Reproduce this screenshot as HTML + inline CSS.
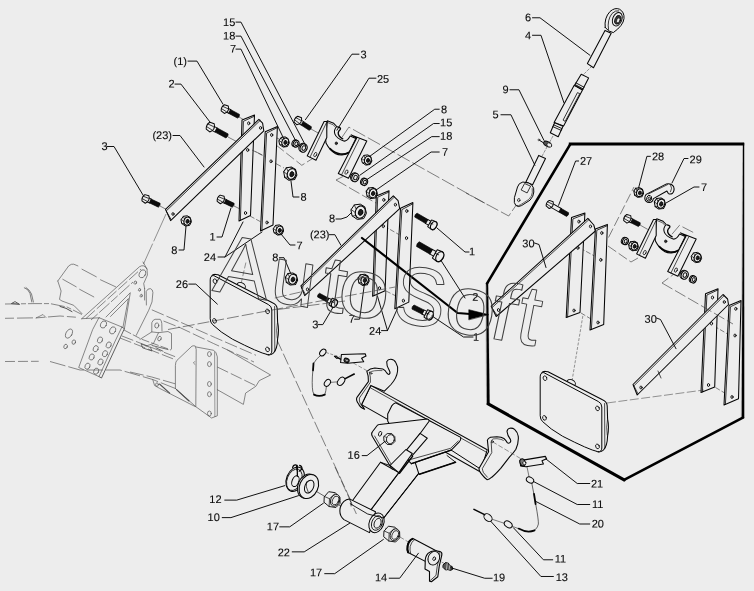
<!DOCTYPE html>
<html><head><meta charset="utf-8"><title>Parts diagram</title>
<style>
html,body{margin:0;padding:0;background:#ededed;}
body{width:754px;height:591px;overflow:hidden;font-family:"Liberation Sans",sans-serif;}
svg{display:block;filter:grayscale(1) blur(0.3px)}
svg text{font-family:"Liberation Sans",sans-serif;fill:#0a0a0a;stroke:#0a0a0a;stroke-width:0.1px;}
</style></head><body>
<svg width="754" height="591" viewBox="0 0 754 591" stroke-linejoin="round" stroke-linecap="round">
<rect width="754" height="591" fill="#ededed"/>
<path d="M5.0 304.0 L35.0 303.6 L50.0 303.6 L67.0 307.0 L82.0 314.5" fill="none" stroke="#4e4e4e" stroke-width="0.65" stroke-dasharray="14 2 5 2" stroke-linecap="butt"/>
<path d="M5.0 318.3 L37.5 317.8 L60.0 316.0 L77.0 317.3" fill="none" stroke="#4e4e4e" stroke-width="0.65" stroke-dasharray="9 3 16 3" stroke-linecap="butt"/>
<path d="M5.0 361.5 L38.7 361.3" fill="none" stroke="#4e4e4e" stroke-width="0.65" stroke-dasharray="10 3" stroke-linecap="butt"/>
<path d="M50.0 361.5 L80.0 370.0 L120.0 370.0 L152.7 379.5 L175.4 388.5" fill="none" stroke="#4e4e4e" stroke-width="0.65" stroke-dasharray="16 3" stroke-linecap="butt"/>
<path d="M24.3 287.7 Q28.5 289 30 293.5 L31.8 302 M26 287.5 Q30 290 31.5 294 L33.4 302" fill="none" stroke="#4e4e4e" stroke-width="0.7" />
<path d="M11.7 303.4 L15 301.6 L19.3 304.2 Z" fill="none" stroke="#4e4e4e" stroke-width="0.9" />
<path d="M36 318 L43 314.5 L46 317.5" fill="none" stroke="#4e4e4e" stroke-width="0.6" />
<path d="M60 306.4 Q66 307.6 72 311.6" fill="none" stroke="#4e4e4e" stroke-width="1.0" />
<path d="M57.8 281 L68.7 265.9 Q71.5 263.6 73.7 264.2 L77.9 265.9" fill="none" stroke="#4e4e4e" stroke-width="0.65" />
<path d="M82.0 269.2 L96.3 276.8" fill="none" stroke="#4e4e4e" stroke-width="0.65" />
<path d="M100.5 279.8 L115.6 286.8" fill="none" stroke="#4e4e4e" stroke-width="0.65" />
<path d="M57.8 281 L61.1 291 L59.5 299.4 L62 301 L73.7 305.3 L82 313.6" fill="none" stroke="#4e4e4e" stroke-width="0.65" />
<path d="M62.8 279.3 L76.2 286.8" fill="none" stroke="#4e4e4e" stroke-width="0.65" />
<path d="M79.6 289.3 L93.8 296.9" fill="none" stroke="#4e4e4e" stroke-width="0.65" />
<path d="M81.7 318.7 L139.5 266.7 Q142 265.2 143.7 265.9 Q146.6 267.4 147 269.2 L147.4 275.1 L143.7 283.5 L144.6 288.5" fill="none" stroke="#4e4e4e" stroke-width="0.65" />
<path d="M86.0 318.5 L141.0 269.0" fill="none" stroke="#4e4e4e" stroke-width="0.65" stroke-dasharray="12 2.5" stroke-linecap="butt"/>
<path d="M91.0 320.0 L133.0 282.0" fill="none" stroke="#4e4e4e" stroke-width="0.65" stroke-dasharray="9 2 14 2" stroke-linecap="butt"/>
<path d="M106 317 L130.3 292.7 L124.4 328.7" fill="none" stroke="#4e4e4e" stroke-width="0.65" />
<path d="M110.5 316.5 L128.4 298.6 L123 327" fill="none" stroke="#4e4e4e" stroke-width="0.65" />
<path d="M81.7 318.7 L99.3 317.8" fill="none" stroke="#4e4e4e" stroke-width="0.65" />
<ellipse cx="142.4" cy="273.8" rx="3.00" ry="4.20" transform="rotate(25.0 142.4 273.8)" fill="none" stroke="#4e4e4e" stroke-width="0.65"/>
<ellipse cx="135.3" cy="282.6" rx="1.20" ry="1.70" transform="rotate(20.0 135.3 282.6)" fill="none" stroke="#4e4e4e" stroke-width="0.65"/>
<ellipse cx="139.5" cy="289.8" rx="1.00" ry="1.50" transform="rotate(20.0 139.5 289.8)" fill="none" stroke="#4e4e4e" stroke-width="0.65"/>
<ellipse cx="141.2" cy="295.7" rx="1.00" ry="1.50" transform="rotate(20.0 141.2 295.7)" fill="none" stroke="#4e4e4e" stroke-width="0.65"/>
<path d="M146.4 305 L146.2 291.5 Q147.6 288.3 150.4 288.6 Q152.8 289.4 152.9 292.5 L152 301.9 L148.7 310.3 L136.2 335.4" fill="none" stroke="#4e4e4e" stroke-width="0.65" />
<path d="M144.6 288.5 L144.6 300" fill="none" stroke="#4e4e4e" stroke-width="0.65" />
<path d="M99.3 317.8 L121.9 327 L115.2 341 L99 376.6 L78.7 367.5 L92.5 330 Z" fill="none" stroke="#4e4e4e" stroke-width="0.65" />
<path d="M121.9 327 L124.4 328.7 L101.5 378 L99 376.6" fill="none" stroke="#4e4e4e" stroke-width="0.9" />
<ellipse cx="103.5" cy="324.5" rx="2.80" ry="3.70" transform="rotate(25.0 103.5 324.5)" fill="none" stroke="#4e4e4e" stroke-width="0.65"/>
<ellipse cx="112.7" cy="330.4" rx="2.80" ry="3.70" transform="rotate(25.0 112.7 330.4)" fill="none" stroke="#4e4e4e" stroke-width="0.65"/>
<ellipse cx="100.0" cy="340.0" rx="2.40" ry="3.20" transform="rotate(25.0 100.0 340.0)" fill="none" stroke="#4e4e4e" stroke-width="0.65"/>
<ellipse cx="108.7" cy="345.0" rx="2.40" ry="3.20" transform="rotate(25.0 108.7 345.0)" fill="none" stroke="#4e4e4e" stroke-width="0.65"/>
<ellipse cx="95.7" cy="348.7" rx="2.40" ry="3.20" transform="rotate(25.0 95.7 348.7)" fill="none" stroke="#4e4e4e" stroke-width="0.65"/>
<ellipse cx="105.0" cy="353.7" rx="2.40" ry="3.20" transform="rotate(25.0 105.0 353.7)" fill="none" stroke="#4e4e4e" stroke-width="0.65"/>
<ellipse cx="91.7" cy="357.0" rx="2.40" ry="3.20" transform="rotate(25.0 91.7 357.0)" fill="none" stroke="#4e4e4e" stroke-width="0.65"/>
<ellipse cx="100.5" cy="362.0" rx="2.40" ry="3.20" transform="rotate(25.0 100.5 362.0)" fill="none" stroke="#4e4e4e" stroke-width="0.65"/>
<ellipse cx="87.5" cy="366.2" rx="2.40" ry="3.20" transform="rotate(25.0 87.5 366.2)" fill="none" stroke="#4e4e4e" stroke-width="0.65"/>
<ellipse cx="96.2" cy="371.2" rx="2.40" ry="3.20" transform="rotate(25.0 96.2 371.2)" fill="none" stroke="#4e4e4e" stroke-width="0.65"/>
<ellipse cx="69.0" cy="333.6" rx="3.00" ry="5.00" transform="rotate(30.0 69.0 333.6)" fill="none" stroke="#4e4e4e" stroke-width="0.65"/>
<ellipse cx="65.6" cy="346.5" rx="1.70" ry="2.30" transform="rotate(20.0 65.6 346.5)" fill="none" stroke="#4e4e4e" stroke-width="0.65"/>
<ellipse cx="73.8" cy="342.1" rx="1.70" ry="2.30" transform="rotate(20.0 73.8 342.1)" fill="none" stroke="#4e4e4e" stroke-width="0.65"/>
<path d="M151.8 331.9 L151.8 322.7 Q153 319.6 155.1 319.3 L160.2 319.3 Q161.6 320.8 161.8 323.5 L162 331" fill="none" stroke="#4e4e4e" stroke-width="0.65" />
<ellipse cx="156.8" cy="325.5" rx="2.00" ry="2.60" transform="rotate(10.0 156.8 325.5)" fill="none" stroke="#4e4e4e" stroke-width="0.65"/>
<path d="M140 339.4 L151.8 331.9 L158.5 332.7 L153.4 343.6 L146 346" fill="none" stroke="#4e4e4e" stroke-width="0.65" />
<path d="M158.5 332.7 L168 331.5 L171.5 333.5 L171.5 349" fill="none" stroke="#4e4e4e" stroke-width="0.65" />
<ellipse cx="159.5" cy="338.6" rx="1.60" ry="2.40" transform="rotate(20.0 159.5 338.6)" fill="none" stroke="#4e4e4e" stroke-width="0.65"/>
<path d="M141.5 344 L150.5 347.5 L152 351 L143 348 Z" fill="none" stroke="#4e4e4e" stroke-width="0.8" />
<path d="M152 345.5 L168 349.5 M156 347.8 L163 351.2" fill="none" stroke="#4e4e4e" stroke-width="0.8" />
<path d="M124.0 330.0 L141.0 339.0 L171.0 350.0" fill="none" stroke="#4e4e4e" stroke-width="0.65" stroke-dasharray="8 2" stroke-linecap="butt"/>
<path d="M122.0 336.0 L176.0 357.0" fill="none" stroke="#4e4e4e" stroke-width="0.65" stroke-dasharray="12 3" stroke-linecap="butt"/>
<path d="M151.8 309.8 L185.3 324.3 L215.4 337.7 L256.0 355.3" fill="none" stroke="#4e4e4e" stroke-width="0.65" stroke-dasharray="13 3" stroke-linecap="butt"/>
<path d="M163.5 321.0 L180.2 327.7 L213.7 343.6 L254.0 362.0" fill="none" stroke="#4e4e4e" stroke-width="0.65" stroke-dasharray="13 3" stroke-linecap="butt"/>
<path d="M120.0 338.0 L176.0 360.0" fill="none" stroke="#4e4e4e" stroke-width="0.65" stroke-dasharray="12 3" stroke-linecap="butt"/>
<path d="M130.0 372.0 L151.8 377.0 L175.2 383.8" fill="none" stroke="#4e4e4e" stroke-width="0.65" stroke-dasharray="14 3" stroke-linecap="butt"/>
<path d="M175.4 388.5 L175.4 365.4 Q175.6 361.5 176.9 360.4 L192 346.1 Q194 345.4 195.3 346.1 L196.2 349.5 L195.8 406.7 L175.4 388.5" fill="none" stroke="#4e4e4e" stroke-width="0.65" />
<path d="M196.2 347 L213.7 350.3 Q216.5 352 217.3 356.8 L217.3 415.8 L211.6 418 L195.8 406.7" fill="none" stroke="#4e4e4e" stroke-width="0.65" />
<path d="M214.6 352 L214.9 416.6" fill="none" stroke="#4e4e4e" stroke-width="0.55" />
<path d="M194.6 361.6 L193.4 363 L195 364.4" fill="none" stroke="#4e4e4e" stroke-width="0.6" />
<ellipse cx="209.4" cy="354.1" rx="1.90" ry="2.50" transform="rotate(0.0 209.4 354.1)" fill="none" stroke="#4e4e4e" stroke-width="0.65"/>
<ellipse cx="209.4" cy="364.1" rx="1.90" ry="2.50" transform="rotate(0.0 209.4 364.1)" fill="none" stroke="#4e4e4e" stroke-width="0.65"/>
<ellipse cx="209.4" cy="384.0" rx="1.90" ry="2.50" transform="rotate(0.0 209.4 384.0)" fill="none" stroke="#4e4e4e" stroke-width="0.65"/>
<ellipse cx="209.4" cy="394.2" rx="1.90" ry="2.50" transform="rotate(0.0 209.4 394.2)" fill="none" stroke="#4e4e4e" stroke-width="0.65"/>
<ellipse cx="209.4" cy="413.5" rx="1.90" ry="2.50" transform="rotate(0.0 209.4 413.5)" fill="none" stroke="#4e4e4e" stroke-width="0.65"/>
<path d="M227.5 350 L270.6 375 L259.3 380.6 L255.8 386.3 L245.6 393.1 L243.4 404.4 L217.3 389.7" fill="none" stroke="#4e4e4e" stroke-width="0.65" />
<path d="M217.3 367.0 L257.0 386.3" fill="none" stroke="#4e4e4e" stroke-width="0.65" stroke-dasharray="12 3" stroke-linecap="butt"/>
<path d="M152.7 379.5 L154.6 385.5 L159.5 388.3 L195 406.5" fill="none" stroke="#4e4e4e" stroke-width="0.65" />
<path d="M159.5 384 L169.7 393.1" fill="none" stroke="#4e4e4e" stroke-width="1.1" />
<path d="M176.5 389.7 L189 401" fill="none" stroke="#4e4e4e" stroke-width="1.1" />
<ellipse cx="157.0" cy="384.6" rx="1.40" ry="1.80" transform="rotate(0.0 157.0 384.6)" fill="none" stroke="#4e4e4e" stroke-width="0.65"/>
<path d="M143.0 262.0 L147.0 269.0" fill="none" stroke="#4e4e4e" stroke-width="0.65" />
<path d="M239.0 117.0 L246.0 121.0" fill="none" stroke="#333" stroke-width="0.6" stroke-dasharray="9 2.5 1.5 2.5" stroke-linecap="butt"/>
<path d="M228.0 137.0 L262.0 155.0" fill="none" stroke="#333" stroke-width="0.6" stroke-dasharray="9 2.5 1.5 2.5" stroke-linecap="butt"/>
<path d="M160.0 206.0 L171.0 212.0" fill="none" stroke="#333" stroke-width="0.6" stroke-dasharray="9 2.5 1.5 2.5" stroke-linecap="butt"/>
<path d="M166.0 214.0 L143.5 264.0" fill="none" stroke="#333" stroke-width="0.5" stroke-dasharray="30 2.5" stroke-linecap="butt"/>
<path d="M234.0 206.0 L240.0 209.0" fill="none" stroke="#333" stroke-width="0.6" stroke-dasharray="9 2.5 1.5 2.5" stroke-linecap="butt"/>
<path d="M273.0 136.0 L283.0 141.0" fill="none" stroke="#333" stroke-width="0.6" stroke-dasharray="9 2.5 1.5 2.5" stroke-linecap="butt"/>
<path d="M273.0 162.0 L284.0 168.0" fill="none" stroke="#333" stroke-width="0.6" stroke-dasharray="9 2.5 1.5 2.5" stroke-linecap="butt"/>
<path d="M276.0 145.0 L301.8 165.3 L315.0 157.0" fill="none" stroke="#333" stroke-width="0.6" stroke-dasharray="10 3" stroke-linecap="butt"/>
<path d="M311.0 129.0 L336.0 143.0" fill="none" stroke="#333" stroke-width="0.6" stroke-dasharray="9 2.5 1.5 2.5" stroke-linecap="butt"/>
<path d="M242.0 120.0 L254.5 115.0 L250.5 215.5 L239.0 221.0 Z" fill="#ededed" stroke="#050505" stroke-width="1.05" />
<path d="M240.4 220.4 L243.4 121.3 L254.3 116.3" fill="none" stroke="#050505" stroke-width="0.8" />
<ellipse cx="248.7" cy="123.3" rx="1.10" ry="1.50" transform="rotate(0.0 248.7 123.3)" fill="#ededed" stroke="#050505" stroke-width="0.9"/>
<ellipse cx="247.7" cy="150.0" rx="1.10" ry="1.50" transform="rotate(0.0 247.7 150.0)" fill="#ededed" stroke="#050505" stroke-width="0.9"/>
<ellipse cx="245.5" cy="213.0" rx="1.10" ry="1.50" transform="rotate(0.0 245.5 213.0)" fill="#ededed" stroke="#050505" stroke-width="0.9"/>
<path d="M258.9 119.4 L165.5 209.4 L170.6 220.6 L263.8 130.8 L262.6 123.2 Z" fill="#ededed" stroke="#050505" stroke-width="1.05" />
<path d="M260.0 120.6 L166.6 210.6" fill="none" stroke="#050505" stroke-width="0.8" />
<path d="M166.2 211.0 L171.0 219.4" fill="none" stroke="#050505" stroke-width="0.8" />
<ellipse cx="260.6" cy="127.9" rx="1.10" ry="1.40" transform="rotate(0.0 260.6 127.9)" fill="#ededed" stroke="#050505" stroke-width="0.9"/>
<ellipse cx="173.0" cy="214.0" rx="1.10" ry="1.40" transform="rotate(0.0 173.0 214.0)" fill="#ededed" stroke="#050505" stroke-width="0.9"/>
<path d="M265.2 131.8 L277.4 126.4 L273.0 225.0 L260.5 231.0 Z" fill="#ededed" stroke="#050505" stroke-width="1.05" />
<path d="M261.9 230.4 L266.6 133.1 L277.2 127.7" fill="none" stroke="#050505" stroke-width="0.8" />
<ellipse cx="271.7" cy="135.0" rx="1.10" ry="1.50" transform="rotate(0.0 271.7 135.0)" fill="#ededed" stroke="#050505" stroke-width="0.9"/>
<ellipse cx="271.0" cy="161.3" rx="1.10" ry="1.50" transform="rotate(0.0 271.0 161.3)" fill="#ededed" stroke="#050505" stroke-width="0.9"/>
<ellipse cx="267.0" cy="222.5" rx="1.10" ry="1.50" transform="rotate(0.0 267.0 222.5)" fill="#ededed" stroke="#050505" stroke-width="0.9"/>
<path d="M250.0 216.0 L261.0 222.0" fill="none" stroke="#333" stroke-width="0.6" stroke-dasharray="5 2" stroke-linecap="butt"/>
<path d="M252.0 150.0 L266.0 157.0" fill="none" stroke="#333" stroke-width="0.6" stroke-dasharray="5 2" stroke-linecap="butt"/>
<g transform="translate(225.0 109.0) rotate(28.2)"><path d="M2.0 -2.1 L5.5 -2.1 L5.5 2.1 L2.0 2.1 Z" fill="#ededed" stroke="#050505" stroke-width="0.9"/><path d="M5.5 -2.1 L15.3 -2.1 Q16.9 0 15.3 2.1 L5.5 2.1 Z" fill="#0c0c0c" stroke="#000" stroke-width="0.6"/><path d="M-2.50 -3.44 L1.50 -4.20 Q5.28 0 1.50 4.20 L-2.50 3.44 Q-4.60 0 -2.50 -3.44 Z" fill="#ededed" stroke="#050505" stroke-width="1.0"/><path d="M-3.30 -1.26 L2.10 -1.60 M-3.30 1.34 L2.10 1.68" fill="none" stroke="#050505" stroke-width="0.7"/></g>
<g transform="translate(210.5 127.0) rotate(28.4)"><path d="M2.3 -2.3 L6.5 -2.3 L6.5 2.3 L2.3 2.3 Z" fill="#ededed" stroke="#050505" stroke-width="0.9"/><path d="M6.5 -2.3 L18.8 -2.3 Q20.4 0 18.8 2.3 L6.5 2.3 Z" fill="#0c0c0c" stroke="#000" stroke-width="0.6"/><path d="M-2.80 -3.85 L1.68 -4.70 Q5.91 0 1.68 4.70 L-2.80 3.85 Q-5.15 0 -2.80 -3.85 Z" fill="#ededed" stroke="#050505" stroke-width="1.0"/><path d="M-3.60 -1.41 L2.28 -1.79 M-3.60 1.50 L2.28 1.88" fill="none" stroke="#050505" stroke-width="0.7"/></g>
<g transform="translate(145.7 198.8) rotate(25.4)"><path d="M2.0 -2.1 L5.4 -2.1 L5.4 2.1 L2.0 2.1 Z" fill="#ededed" stroke="#050505" stroke-width="0.9"/><path d="M5.4 -2.1 L15.0 -2.1 Q16.6 0 15.0 2.1 L5.4 2.1 Z" fill="#0c0c0c" stroke="#000" stroke-width="0.6"/><path d="M-2.50 -3.44 L1.50 -4.20 Q5.28 0 1.50 4.20 L-2.50 3.44 Q-4.60 0 -2.50 -3.44 Z" fill="#ededed" stroke="#050505" stroke-width="1.0"/><path d="M-3.30 -1.26 L2.10 -1.60 M-3.30 1.34 L2.10 1.68" fill="none" stroke="#050505" stroke-width="0.7"/></g>
<g transform="translate(220.9 199.3) rotate(25.7)"><path d="M2.0 -2.1 L5.1 -2.1 L5.1 2.1 L2.0 2.1 Z" fill="#ededed" stroke="#050505" stroke-width="0.9"/><path d="M5.1 -2.1 L13.7 -2.1 Q15.3 0 13.7 2.1 L5.1 2.1 Z" fill="#0c0c0c" stroke="#000" stroke-width="0.6"/><path d="M-2.50 -3.44 L1.50 -4.20 Q5.28 0 1.50 4.20 L-2.50 3.44 Q-4.60 0 -2.50 -3.44 Z" fill="#ededed" stroke="#050505" stroke-width="1.0"/><path d="M-3.30 -1.26 L2.10 -1.60 M-3.30 1.34 L2.10 1.68" fill="none" stroke="#050505" stroke-width="0.7"/></g>
<g transform="translate(298.0 120.5) rotate(33.2)"><path d="M2.0 -2.1 L5.4 -2.1 L5.4 2.1 L2.0 2.1 Z" fill="#ededed" stroke="#050505" stroke-width="0.9"/><path d="M5.4 -2.1 L14.7 -2.1 Q16.3 0 14.7 2.1 L5.4 2.1 Z" fill="#0c0c0c" stroke="#000" stroke-width="0.6"/><path d="M-2.50 -3.44 L1.50 -4.20 Q5.28 0 1.50 4.20 L-2.50 3.44 Q-4.60 0 -2.50 -3.44 Z" fill="#ededed" stroke="#050505" stroke-width="1.0"/><path d="M-3.30 -1.26 L2.10 -1.60 M-3.30 1.34 L2.10 1.68" fill="none" stroke="#050505" stroke-width="0.7"/></g>
<g transform="translate(284.2 142.0) rotate(0.0) scale(5.000)"><path d="M-1.02 -0.3 L-0.6 -0.92 L0.2 -1.02 L0.8 -0.66 L1.02 0.2 L0.66 0.9 L-0.2 1.02 L-0.86 0.56 Z" fill="#ededed" stroke="#050505" stroke-width="0.200"/><ellipse cx="0.2" cy="0.04" rx="0.66" ry="0.84" transform="rotate(18 0.2 0.04)" fill="#ededed" stroke="#050505" stroke-width="0.220"/><path d="M-0.6 -0.92 L-0.38 -0.42 M-1.02 -0.3 L-0.46 0.1 M-0.86 0.56 L-0.36 0.5" fill="none" stroke="#050505" stroke-width="0.140"/><ellipse cx="0.24" cy="0.08" rx="0.30" ry="0.41" transform="rotate(18 0.24 0.08)" fill="#1e1e1e" stroke="#050505" stroke-width="0.160"/></g>
<g transform="translate(296.1 143.7) rotate(22.0)"><ellipse cx="-1.30" cy="0" rx="2.87" ry="3.50" fill="#ededed" stroke="#050505" stroke-width="1.0"/><ellipse cx="0" cy="0" rx="2.87" ry="3.50" fill="#ededed" stroke="#050505" stroke-width="1.2"/><ellipse cx="0.2" cy="0" rx="1.40" ry="1.93" fill="#ededed" stroke="#050505" stroke-width="0.9"/></g>
<g transform="translate(303.6 148.0) rotate(22.0)"><ellipse cx="-1.30" cy="0" rx="3.48" ry="4.25" fill="#ededed" stroke="#050505" stroke-width="1.0"/><ellipse cx="0" cy="0" rx="3.48" ry="4.25" fill="#ededed" stroke="#050505" stroke-width="1.2"/><ellipse cx="0.2" cy="0" rx="1.70" ry="2.34" fill="#ededed" stroke="#050505" stroke-width="0.9"/></g>
<g transform="translate(290.3 173.7) rotate(0.0) scale(6.500)"><path d="M-1.02 -0.3 L-0.6 -0.92 L0.2 -1.02 L0.8 -0.66 L1.02 0.2 L0.66 0.9 L-0.2 1.02 L-0.86 0.56 Z" fill="#ededed" stroke="#050505" stroke-width="0.154"/><ellipse cx="0.2" cy="0.04" rx="0.66" ry="0.84" transform="rotate(18 0.2 0.04)" fill="#ededed" stroke="#050505" stroke-width="0.169"/><path d="M-0.6 -0.92 L-0.38 -0.42 M-1.02 -0.3 L-0.46 0.1 M-0.86 0.56 L-0.36 0.5" fill="none" stroke="#050505" stroke-width="0.108"/><ellipse cx="0.24" cy="0.08" rx="0.30" ry="0.41" transform="rotate(18 0.24 0.08)" fill="#1e1e1e" stroke="#050505" stroke-width="0.123"/></g>
<g transform="translate(278.5 230.0) rotate(0.0) scale(5.000)"><path d="M-1.02 -0.3 L-0.6 -0.92 L0.2 -1.02 L0.8 -0.66 L1.02 0.2 L0.66 0.9 L-0.2 1.02 L-0.86 0.56 Z" fill="#ededed" stroke="#050505" stroke-width="0.200"/><ellipse cx="0.2" cy="0.04" rx="0.66" ry="0.84" transform="rotate(18 0.2 0.04)" fill="#ededed" stroke="#050505" stroke-width="0.220"/><path d="M-0.6 -0.92 L-0.38 -0.42 M-1.02 -0.3 L-0.46 0.1 M-0.86 0.56 L-0.36 0.5" fill="none" stroke="#050505" stroke-width="0.140"/><ellipse cx="0.24" cy="0.08" rx="0.30" ry="0.41" transform="rotate(18 0.24 0.08)" fill="#1e1e1e" stroke="#050505" stroke-width="0.160"/></g>
<g transform="translate(186.3 220.9) rotate(0.0) scale(5.000)"><path d="M-1.02 -0.3 L-0.6 -0.92 L0.2 -1.02 L0.8 -0.66 L1.02 0.2 L0.66 0.9 L-0.2 1.02 L-0.86 0.56 Z" fill="#ededed" stroke="#050505" stroke-width="0.200"/><ellipse cx="0.2" cy="0.04" rx="0.66" ry="0.84" transform="rotate(18 0.2 0.04)" fill="#ededed" stroke="#050505" stroke-width="0.220"/><path d="M-0.6 -0.92 L-0.38 -0.42 M-1.02 -0.3 L-0.46 0.1 M-0.86 0.56 L-0.36 0.5" fill="none" stroke="#050505" stroke-width="0.140"/><ellipse cx="0.24" cy="0.08" rx="0.30" ry="0.41" transform="rotate(18 0.24 0.08)" fill="#1e1e1e" stroke="#050505" stroke-width="0.160"/></g>
<path d="M 327.3 120.8 L 333.7 123.3 L 336.8 126.5 C 334.8 128.5 333.9 131.5 334.9 134.1 C 336.0 137.0 339.5 139.5 343.8 141.1 C 346.0 141.4 348.5 139.0 350.2 136.0 L 355.9 138.6 L 349.0 152.6 C 345.0 155.6 339.0 155.4 335.6 153.8 C 331.5 151.5 328.6 148.1 326.0 143.0 L 325.5 138.0 Z" fill="#ededed" stroke="#050505" stroke-width="1.05" />
<path d="M 337.6 126.9 C 340.4 127.4 341.0 128.4 340.2 129.6 C 338.2 131.4 337.6 133.8 339.2 136.0 C 340.2 137.4 341.4 138.3 342.8 138.8" fill="none" stroke="#050505" stroke-width="1.3" />
<path d="M 327.3 122.4 L 333.2 124.8 L 335.6 127.4" fill="none" stroke="#050505" stroke-width="0.6" />
<path d="M 330.0 148.6 C 333.0 151.6 336.5 153.4 340.6 154.0 C 343.5 154.3 346.5 153.6 348.6 152.4" fill="none" stroke="#050505" stroke-width="1.7" />
<ellipse cx="336.3" cy="143.3" rx="1.20" ry="1.40" transform="rotate(0.0 336.3 143.3)" fill="#333" stroke="#050505" stroke-width="0.6"/>
<path d="M324.1 121.4 L326.8 121.4 L326.8 137.6 L316.0 160.3 L307.2 155.9 Z" fill="#ededed" stroke="#050505" stroke-width="1.05" />
<path d="M326.3 123.0 L310.0 157.2" fill="none" stroke="#050505" stroke-width="0.7" />
<ellipse cx="315.3" cy="154.6" rx="1.30" ry="2.30" transform="rotate(25.0 315.3 154.6)" fill="#ededed" stroke="#050505" stroke-width="0.7"/>
<path d="M351.2 134.9 L366.8 141.0 L348.5 178.2 L338.3 173.5 L356.6 138.3 Z" fill="#ededed" stroke="#050505" stroke-width="1.05" />
<path d="M359.3 139.0 L341.5 175.0" fill="none" stroke="#050505" stroke-width="0.7" />
<ellipse cx="346.5" cy="172.1" rx="1.30" ry="2.30" transform="rotate(25.0 346.5 172.1)" fill="#ededed" stroke="#050505" stroke-width="0.7"/>
<g transform="translate(366.8 160.0) rotate(0.0) scale(5.000)"><path d="M-1.02 -0.3 L-0.6 -0.92 L0.2 -1.02 L0.8 -0.66 L1.02 0.2 L0.66 0.9 L-0.2 1.02 L-0.86 0.56 Z" fill="#ededed" stroke="#050505" stroke-width="0.200"/><ellipse cx="0.2" cy="0.04" rx="0.66" ry="0.84" transform="rotate(18 0.2 0.04)" fill="#ededed" stroke="#050505" stroke-width="0.220"/><path d="M-0.6 -0.92 L-0.38 -0.42 M-1.02 -0.3 L-0.46 0.1 M-0.86 0.56 L-0.36 0.5" fill="none" stroke="#050505" stroke-width="0.140"/><ellipse cx="0.24" cy="0.08" rx="0.30" ry="0.41" transform="rotate(18 0.24 0.08)" fill="#1e1e1e" stroke="#050505" stroke-width="0.160"/></g>
<g transform="translate(355.3 177.5) rotate(22.0)"><ellipse cx="-1.30" cy="0" rx="3.48" ry="4.25" fill="#ededed" stroke="#050505" stroke-width="1.0"/><ellipse cx="0" cy="0" rx="3.48" ry="4.25" fill="#ededed" stroke="#050505" stroke-width="1.2"/><ellipse cx="0.2" cy="0" rx="1.70" ry="2.34" fill="#ededed" stroke="#050505" stroke-width="0.9"/></g>
<g transform="translate(364.7 182.0) rotate(22.0)"><ellipse cx="-1.30" cy="0" rx="2.87" ry="3.50" fill="#ededed" stroke="#050505" stroke-width="1.0"/><ellipse cx="0" cy="0" rx="2.87" ry="3.50" fill="#ededed" stroke="#050505" stroke-width="1.2"/><ellipse cx="0.2" cy="0" rx="1.40" ry="1.93" fill="#ededed" stroke="#050505" stroke-width="0.9"/></g>
<path d="M342.0 137.3 L348.9 127.1 L488.0 205.0" fill="none" stroke="#333" stroke-width="0.6" stroke-dasharray="14 3" stroke-linecap="butt"/>
<path d="M336.0 180.0 L344.0 176.0" fill="none" stroke="#333" stroke-width="0.6" stroke-dasharray="8 3" stroke-linecap="butt"/>
<path d="M336.0 180.0 L395.0 214.0" fill="none" stroke="#333" stroke-width="0.6" stroke-dasharray="12 3" stroke-linecap="butt"/>
<path d="M384.0 226.0 L405.0 238.0" fill="none" stroke="#333" stroke-width="0.6" stroke-dasharray="5 2" stroke-linecap="butt"/>
<path d="M386.0 291.0 L396.0 296.0" fill="none" stroke="#333" stroke-width="0.6" stroke-dasharray="5 2" stroke-linecap="butt"/>
<path d="M376.3 195.9 L389.0 190.8 L385.1 290.8 L372.6 296.2 Z" fill="#ededed" stroke="#050505" stroke-width="1.05" />
<path d="M374.0 295.6 L377.7 197.2 L388.8 192.1" fill="none" stroke="#050505" stroke-width="0.8" />
<ellipse cx="383.8" cy="199.9" rx="1.10" ry="1.50" transform="rotate(0.0 383.8 199.9)" fill="#ededed" stroke="#050505" stroke-width="0.9"/>
<ellipse cx="383.3" cy="226.2" rx="1.10" ry="1.50" transform="rotate(0.0 383.3 226.2)" fill="#ededed" stroke="#050505" stroke-width="0.9"/>
<ellipse cx="379.5" cy="288.2" rx="1.10" ry="1.50" transform="rotate(0.0 379.5 288.2)" fill="#ededed" stroke="#050505" stroke-width="0.9"/>
<path d="M393.3 195.9 L300.9 285.8 L304.7 295.6 L399.7 208.6 L398.1 200.7 Z" fill="#ededed" stroke="#050505" stroke-width="1.05" />
<path d="M394.4 197.0 L302.0 286.9" fill="none" stroke="#050505" stroke-width="0.7" />
<path d="M301.5 287.5 L305.5 294.5" fill="none" stroke="#050505" stroke-width="0.7" />
<ellipse cx="395.4" cy="204.7" rx="1.10" ry="1.40" transform="rotate(0.0 395.4 204.7)" fill="#ededed" stroke="#050505" stroke-width="0.9"/>
<ellipse cx="307.5" cy="289.4" rx="1.10" ry="1.50" transform="rotate(0.0 307.5 289.4)" fill="#ededed" stroke="#050505" stroke-width="0.9"/>
<path d="M400.5 208.3 L412.9 202.6 L408.8 302.1 L394.8 308.7 Z" fill="#ededed" stroke="#050505" stroke-width="1.05" />
<path d="M396.2 308.1 L401.9 209.6 L412.7 203.9" fill="none" stroke="#050505" stroke-width="0.8" />
<ellipse cx="406.8" cy="211.0" rx="1.10" ry="1.50" transform="rotate(0.0 406.8 211.0)" fill="#ededed" stroke="#050505" stroke-width="0.9"/>
<ellipse cx="406.5" cy="238.1" rx="1.10" ry="1.50" transform="rotate(0.0 406.5 238.1)" fill="#ededed" stroke="#050505" stroke-width="0.9"/>
<ellipse cx="403.4" cy="300.7" rx="1.10" ry="1.50" transform="rotate(0.0 403.4 300.7)" fill="#ededed" stroke="#050505" stroke-width="0.9"/>
<g transform="translate(432.0 224.6) rotate(-149.5)"><path d="M2.2 -2.3 L6.4 -2.3 L6.4 2.3 L2.2 2.3 Z" fill="#ededed" stroke="#050505" stroke-width="0.9"/><path d="M6.4 -2.3 L18.7 -2.3 Q20.3 0 18.7 2.3 L6.4 2.3 Z" fill="#0c0c0c" stroke="#000" stroke-width="0.6"/><path d="M2.70 -3.87 L-1.89 -4.50 A2.97 4.50 0 0 0 -1.89 4.50 L2.70 3.87 Z" fill="#ededed" stroke="#050505" stroke-width="1.0"/><ellipse cx="-1.89" cy="0" rx="2.79" ry="4.32" fill="#ededed" stroke="#050505" stroke-width="1.1"/><path d="M2.70 0.45 L-0.41 0.90" fill="none" stroke="#050505" stroke-width="0.7"/></g>
<g transform="translate(437.7 255.5) rotate(-150.1)"><path d="M2.8 -2.7 L7.8 -2.7 L7.8 2.7 L2.8 2.7 Z" fill="#ededed" stroke="#050505" stroke-width="0.9"/><path d="M7.8 -2.7 L22.9 -2.7 Q24.5 0 22.9 2.7 L7.8 2.7 Z" fill="#0c0c0c" stroke="#000" stroke-width="0.6"/><path d="M3.30 -4.82 L-2.31 -5.60 A3.70 5.60 0 0 0 -2.31 5.60 L3.30 4.82 Z" fill="#ededed" stroke="#050505" stroke-width="1.0"/><ellipse cx="-2.31" cy="0" rx="3.47" ry="5.38" fill="#ededed" stroke="#050505" stroke-width="1.1"/><path d="M3.30 0.56 L-0.49 1.12" fill="none" stroke="#050505" stroke-width="0.7"/></g>
<g transform="translate(428.3 314.7) rotate(-153.4)"><path d="M2.3 -2.3 L6.1 -2.3 L6.1 2.3 L2.3 2.3 Z" fill="#ededed" stroke="#050505" stroke-width="0.9"/><path d="M6.1 -2.3 L17.1 -2.3 Q18.7 0 17.1 2.3 L6.1 2.3 Z" fill="#0c0c0c" stroke="#000" stroke-width="0.6"/><path d="M2.80 -4.04 L-1.96 -4.70 A3.10 4.70 0 0 0 -1.96 4.70 L2.80 4.04 Z" fill="#ededed" stroke="#050505" stroke-width="1.0"/><ellipse cx="-1.96" cy="0" rx="2.91" ry="4.51" fill="#ededed" stroke="#050505" stroke-width="1.1"/><path d="M2.80 0.47 L-0.42 0.94" fill="none" stroke="#050505" stroke-width="0.7"/></g>
<g transform="translate(332.8 302.7) rotate(-152.1)"><path d="M2.0 -2.1 L5.7 -2.1 L5.7 2.1 L2.0 2.1 Z" fill="#ededed" stroke="#050505" stroke-width="0.9"/><path d="M5.7 -2.1 L16.1 -2.1 Q17.7 0 16.1 2.1 L5.7 2.1 Z" fill="#0c0c0c" stroke="#000" stroke-width="0.6"/><path d="M2.50 -3.61 L-1.75 -4.20 A2.77 4.20 0 0 0 -1.75 4.20 L2.50 3.61 Z" fill="#ededed" stroke="#050505" stroke-width="1.0"/><ellipse cx="-1.75" cy="0" rx="2.60" ry="4.03" fill="#ededed" stroke="#050505" stroke-width="1.1"/><path d="M2.50 0.42 L-0.38 0.84" fill="none" stroke="#050505" stroke-width="0.7"/></g>
<g transform="translate(371.8 193.0) rotate(0.0) scale(5.500)"><path d="M-1.02 -0.3 L-0.6 -0.92 L0.2 -1.02 L0.8 -0.66 L1.02 0.2 L0.66 0.9 L-0.2 1.02 L-0.86 0.56 Z" fill="#ededed" stroke="#050505" stroke-width="0.182"/><ellipse cx="0.2" cy="0.04" rx="0.66" ry="0.84" transform="rotate(18 0.2 0.04)" fill="#ededed" stroke="#050505" stroke-width="0.200"/><path d="M-0.6 -0.92 L-0.38 -0.42 M-1.02 -0.3 L-0.46 0.1 M-0.86 0.56 L-0.36 0.5" fill="none" stroke="#050505" stroke-width="0.127"/><ellipse cx="0.24" cy="0.08" rx="0.30" ry="0.41" transform="rotate(18 0.24 0.08)" fill="#1e1e1e" stroke="#050505" stroke-width="0.145"/></g>
<g transform="translate(358.8 211.8) rotate(0.0) scale(7.500)"><path d="M-1.02 -0.3 L-0.6 -0.92 L0.2 -1.02 L0.8 -0.66 L1.02 0.2 L0.66 0.9 L-0.2 1.02 L-0.86 0.56 Z" fill="#ededed" stroke="#050505" stroke-width="0.133"/><ellipse cx="0.2" cy="0.04" rx="0.66" ry="0.84" transform="rotate(18 0.2 0.04)" fill="#ededed" stroke="#050505" stroke-width="0.147"/><path d="M-0.6 -0.92 L-0.38 -0.42 M-1.02 -0.3 L-0.46 0.1 M-0.86 0.56 L-0.36 0.5" fill="none" stroke="#050505" stroke-width="0.093"/><ellipse cx="0.24" cy="0.08" rx="0.30" ry="0.41" transform="rotate(18 0.24 0.08)" fill="#1e1e1e" stroke="#050505" stroke-width="0.107"/></g>
<g transform="translate(363.6 279.8) rotate(0.0) scale(5.500)"><path d="M-1.02 -0.3 L-0.6 -0.92 L0.2 -1.02 L0.8 -0.66 L1.02 0.2 L0.66 0.9 L-0.2 1.02 L-0.86 0.56 Z" fill="#ededed" stroke="#050505" stroke-width="0.182"/><ellipse cx="0.2" cy="0.04" rx="0.66" ry="0.84" transform="rotate(18 0.2 0.04)" fill="#ededed" stroke="#050505" stroke-width="0.200"/><path d="M-0.6 -0.92 L-0.38 -0.42 M-1.02 -0.3 L-0.46 0.1 M-0.86 0.56 L-0.36 0.5" fill="none" stroke="#050505" stroke-width="0.127"/><ellipse cx="0.24" cy="0.08" rx="0.30" ry="0.41" transform="rotate(18 0.24 0.08)" fill="#1e1e1e" stroke="#050505" stroke-width="0.145"/></g>
<path d="M336.0 219.0 L341.0 219.0 L347.0 217.0 L351.0 213.0" fill="none" stroke="#050505" stroke-width="0.95" />
<path d="M317.8 324.6 L322.8 324.6 L332.8 307.7" fill="none" stroke="#050505" stroke-width="0.95" />
<path d="M354.6 319.2 L359.6 319.2 L364.6 282.8" fill="none" stroke="#050505" stroke-width="0.95" />
<path d="M381.5 330.6 L387.5 330.6 L377.5 296.2" fill="none" stroke="#050505" stroke-width="0.95" />
<path d="M387.5 330.6 L397.4 308.7" fill="none" stroke="#050505" stroke-width="0.95" />
<path d="M437.0 228.0 L465.0 252.0 L469.0 252.0" fill="none" stroke="#050505" stroke-width="0.95" />
<path d="M441.0 260.5 L465.0 298.0" fill="none" stroke="#050505" stroke-width="0.95" />
<path d="M432.0 316.0 L463.5 337.0 L473.0 337.0" fill="none" stroke="#050505" stroke-width="0.95" />
<path d="M299.0 197.0 L293.0 197.0 L291.0 181.0" fill="none" stroke="#050505" stroke-width="0.95" />
<path d="M217.0 237.0 L222.0 237.0 L231.0 208.0" fill="none" stroke="#050505" stroke-width="0.95" />
<path d="M295.0 245.0 L290.0 245.0 L281.0 234.0" fill="none" stroke="#050505" stroke-width="0.95" />
<path d="M179.0 250.0 L184.0 250.0 L186.0 226.0" fill="none" stroke="#050505" stroke-width="0.95" />
<path d="M218.0 257.0 L225.0 257.0 L243.0 222.0" fill="none" stroke="#050505" stroke-width="0.95" />
<path d="M225.0 257.0 L262.0 232.0" fill="none" stroke="#050505" stroke-width="0.95" />
<g transform="translate(291.5 279.0) rotate(0.0) scale(6.000)"><path d="M-1.02 -0.3 L-0.6 -0.92 L0.2 -1.02 L0.8 -0.66 L1.02 0.2 L0.66 0.9 L-0.2 1.02 L-0.86 0.56 Z" fill="#ededed" stroke="#050505" stroke-width="0.167"/><ellipse cx="0.2" cy="0.04" rx="0.66" ry="0.84" transform="rotate(18 0.2 0.04)" fill="#ededed" stroke="#050505" stroke-width="0.183"/><path d="M-0.6 -0.92 L-0.38 -0.42 M-1.02 -0.3 L-0.46 0.1 M-0.86 0.56 L-0.36 0.5" fill="none" stroke="#050505" stroke-width="0.117"/><ellipse cx="0.24" cy="0.08" rx="0.30" ry="0.41" transform="rotate(18 0.24 0.08)" fill="#1e1e1e" stroke="#050505" stroke-width="0.133"/></g>
<path d="M279.4 257.7 L284.0 257.7 L290.6 273.2" fill="none" stroke="#050505" stroke-width="0.95" />
<path d="M173.0 135.5 L180.0 135.5 L204.0 167.0" fill="none" stroke="#050505" stroke-width="0.95" />
<path d="M107.0 146.5 L114.0 146.5 L143.0 195.0" fill="none" stroke="#050505" stroke-width="0.95" />
<path d="M580.0 248.0 L598.0 258.0" fill="none" stroke="#333" stroke-width="0.6" stroke-dasharray="5 2" stroke-linecap="butt"/>
<path d="M581.0 313.0 L591.0 319.0" fill="none" stroke="#333" stroke-width="0.6" stroke-dasharray="5 2" stroke-linecap="butt"/>
<path d="M571.5 217.6 L584.9 213.0 L580.0 312.5 L566.2 317.5 Z" fill="#ededed" stroke="#050505" stroke-width="1.05" />
<path d="M567.6 316.9 L572.9 218.9 L584.7 214.3" fill="none" stroke="#050505" stroke-width="0.8" />
<ellipse cx="578.9" cy="221.6" rx="1.10" ry="1.50" transform="rotate(0.0 578.9 221.6)" fill="#ededed" stroke="#050505" stroke-width="0.9"/>
<ellipse cx="577.9" cy="247.9" rx="1.10" ry="1.50" transform="rotate(0.0 577.9 247.9)" fill="#ededed" stroke="#050505" stroke-width="0.9"/>
<ellipse cx="574.0" cy="310.5" rx="1.10" ry="1.50" transform="rotate(0.0 574.0 310.5)" fill="#ededed" stroke="#050505" stroke-width="0.9"/>
<path d="M587.9 218.4 L491.2 306.2 L496.2 316.5 L595.4 231.0 L593.8 225.0 Z" fill="#ededed" stroke="#050505" stroke-width="1.05" />
<path d="M589.0 219.6 L492.4 307.3" fill="none" stroke="#050505" stroke-width="0.7" />
<path d="M492.0 308.0 L497.0 315.2" fill="none" stroke="#050505" stroke-width="0.7" />
<ellipse cx="590.5" cy="226.4" rx="1.10" ry="1.40" transform="rotate(0.0 590.5 226.4)" fill="#ededed" stroke="#050505" stroke-width="0.9"/>
<ellipse cx="498.5" cy="310.0" rx="1.10" ry="1.50" transform="rotate(0.0 498.5 310.0)" fill="#ededed" stroke="#050505" stroke-width="0.9"/>
<path d="M595.4 229.0 L607.4 224.4 L603.7 324.5 L590.0 330.0 Z" fill="#ededed" stroke="#050505" stroke-width="1.05" />
<path d="M591.4 329.4 L596.8 230.3 L607.2 225.7" fill="none" stroke="#050505" stroke-width="0.8" />
<ellipse cx="601.8" cy="233.0" rx="1.10" ry="1.50" transform="rotate(0.0 601.8 233.0)" fill="#ededed" stroke="#050505" stroke-width="0.9"/>
<ellipse cx="600.8" cy="259.9" rx="1.10" ry="1.50" transform="rotate(0.0 600.8 259.9)" fill="#ededed" stroke="#050505" stroke-width="0.9"/>
<ellipse cx="598.0" cy="322.5" rx="1.10" ry="1.50" transform="rotate(0.0 598.0 322.5)" fill="#ededed" stroke="#050505" stroke-width="0.9"/>
<g transform="translate(549.9 204.4) rotate(29.9)"><path d="M2.0 -2.1 L11.9 -2.1 L11.9 2.1 L2.0 2.1 Z" fill="#ededed" stroke="#050505" stroke-width="0.9"/><path d="M11.9 -2.1 L20.4 -2.1 Q22.0 0 20.4 2.1 L11.9 2.1 Z" fill="#0c0c0c" stroke="#000" stroke-width="0.6"/><path d="M-2.50 -3.20 L1.50 -3.90 Q5.01 0 1.50 3.90 L-2.50 3.20 Q-4.45 0 -2.50 -3.20 Z" fill="#ededed" stroke="#050505" stroke-width="1.0"/><path d="M-3.30 -1.17 L2.10 -1.48 M-3.30 1.25 L2.10 1.56" fill="none" stroke="#050505" stroke-width="0.7"/></g>
<path d="M714.0 326.0 L731.0 336.0" fill="none" stroke="#333" stroke-width="0.6" stroke-dasharray="5 2" stroke-linecap="butt"/>
<path d="M715.5 387.5 L725.5 393.5" fill="none" stroke="#333" stroke-width="0.6" stroke-dasharray="5 2" stroke-linecap="butt"/>
<path d="M705.5 293.7 L718.0 288.7 L714.7 387.0 L701.0 392.5 Z" fill="#ededed" stroke="#050505" stroke-width="1.05" />
<path d="M702.4 391.9 L706.9 295.0 L717.8 290.0" fill="none" stroke="#050505" stroke-width="0.8" />
<ellipse cx="712.5" cy="297.5" rx="1.10" ry="1.50" transform="rotate(0.0 712.5 297.5)" fill="#ededed" stroke="#050505" stroke-width="0.9"/>
<ellipse cx="711.5" cy="323.5" rx="1.10" ry="1.50" transform="rotate(0.0 711.5 323.5)" fill="#ededed" stroke="#050505" stroke-width="0.9"/>
<ellipse cx="708.5" cy="385.0" rx="1.10" ry="1.50" transform="rotate(0.0 708.5 385.0)" fill="#ededed" stroke="#050505" stroke-width="0.9"/>
<path d="M723.0 294.5 L633.0 384.5 L637.2 395.0 L728.5 304.5 L727.6 299.0 Z" fill="#ededed" stroke="#050505" stroke-width="1.05" />
<path d="M724.1 295.7 L634.1 385.7" fill="none" stroke="#050505" stroke-width="0.7" />
<path d="M634.0 386.0 L638.0 393.8" fill="none" stroke="#050505" stroke-width="0.7" />
<ellipse cx="724.3" cy="302.0" rx="1.10" ry="1.40" transform="rotate(0.0 724.3 302.0)" fill="#ededed" stroke="#050505" stroke-width="0.9"/>
<ellipse cx="641.0" cy="387.5" rx="1.10" ry="1.50" transform="rotate(0.0 641.0 387.5)" fill="#ededed" stroke="#050505" stroke-width="0.9"/>
<path d="M729.0 305.5 L741.0 300.5 L738.5 398.7 L724.0 405.0 Z" fill="#ededed" stroke="#050505" stroke-width="1.05" />
<path d="M725.4 404.4 L730.4 306.8 L740.8 301.8" fill="none" stroke="#050505" stroke-width="0.8" />
<ellipse cx="735.8" cy="308.8" rx="1.10" ry="1.50" transform="rotate(0.0 735.8 308.8)" fill="#ededed" stroke="#050505" stroke-width="0.9"/>
<ellipse cx="735.0" cy="335.5" rx="1.10" ry="1.50" transform="rotate(0.0 735.0 335.5)" fill="#ededed" stroke="#050505" stroke-width="0.9"/>
<ellipse cx="732.0" cy="397.0" rx="1.10" ry="1.50" transform="rotate(0.0 732.0 397.0)" fill="#ededed" stroke="#050505" stroke-width="0.9"/>
<path d="M658.0 371.0 L661.0 378.0" fill="none" stroke="#050505" stroke-width="0.7" />
<path d="M608.5 237.5 L634.0 187.0" fill="none" stroke="#333" stroke-width="0.6" stroke-dasharray="10 3" stroke-linecap="butt"/>
<path d="M608.0 246.0 L631.0 262.0 L645.0 254.0" fill="none" stroke="#333" stroke-width="0.6" stroke-dasharray="10 3" stroke-linecap="butt"/>
<path d="M640.0 225.0 L668.0 241.0" fill="none" stroke="#333" stroke-width="0.6" stroke-dasharray="9 2.5 1.5 2.5" stroke-linecap="butt"/>
<path d="M672.0 234.2 L679.5 225.3 L694.0 232.8" fill="none" stroke="#333" stroke-width="0.6" stroke-dasharray="12 3" stroke-linecap="butt"/>
<path d="M662.0 283.0 L674.0 274.0" fill="none" stroke="#333" stroke-width="0.6" stroke-dasharray="8 3" stroke-linecap="butt"/>
<path d="M662.0 283.0 L733.0 324.0" fill="none" stroke="#333" stroke-width="0.6" stroke-dasharray="12 3" stroke-linecap="butt"/>
<path d="M 656.7 218.8 L 663.1 221.3 L 666.2 224.5 C 664.2 226.5 663.3 229.5 664.3 232.1 C 665.4 235.0 668.9 237.5 673.2 239.1 C 675.4 239.4 677.9 237.0 679.6 234.0 L 685.3 236.6 L 678.4 250.6 C 674.4 253.6 668.4 253.4 665.0 251.8 C 660.9 249.5 658.0 246.1 655.4 241.0 L 654.9 236.0 Z" fill="#ededed" stroke="#050505" stroke-width="1.05" />
<path d="M 667.0 224.9 C 669.8 225.4 670.4 226.4 669.6 227.6 C 667.6 229.4 667.0 231.8 668.6 234.0 C 669.6 235.4 670.8 236.3 672.2 236.8" fill="none" stroke="#050505" stroke-width="1.3" />
<path d="M 656.7 220.4 L 662.6 222.8 L 665.0 225.4" fill="none" stroke="#050505" stroke-width="0.6" />
<path d="M 659.4 246.6 C 662.4 249.6 665.9 251.4 670.0 252.0 C 672.9 252.3 675.9 251.6 678.0 250.4" fill="none" stroke="#050505" stroke-width="1.7" />
<ellipse cx="665.7" cy="241.3" rx="1.20" ry="1.40" transform="rotate(0.0 665.7 241.3)" fill="#333" stroke="#050505" stroke-width="0.6"/>
<path d="M653.5 219.4 L656.2 219.4 L656.2 235.6 L645.4 258.3 L636.6 253.9 Z" fill="#ededed" stroke="#050505" stroke-width="1.05" />
<path d="M655.7 221.0 L639.4 255.2" fill="none" stroke="#050505" stroke-width="0.7" />
<ellipse cx="644.7" cy="252.6" rx="1.30" ry="2.30" transform="rotate(25.0 644.7 252.6)" fill="#ededed" stroke="#050505" stroke-width="0.7"/>
<path d="M680.6 232.9 L696.2 239.0 L677.9 276.2 L667.7 271.5 L686.0 236.3 Z" fill="#ededed" stroke="#050505" stroke-width="1.05" />
<path d="M688.7 237.0 L670.9 273.0" fill="none" stroke="#050505" stroke-width="0.7" />
<ellipse cx="675.9" cy="270.1" rx="1.30" ry="2.30" transform="rotate(25.0 675.9 270.1)" fill="#ededed" stroke="#050505" stroke-width="0.7"/>
<g transform="translate(627.5 218.7) rotate(26.7)"><path d="M2.0 -2.1 L5.0 -2.1 L5.0 2.1 L2.0 2.1 Z" fill="#ededed" stroke="#050505" stroke-width="0.9"/><path d="M5.0 -2.1 L13.2 -2.1 Q14.8 0 13.2 2.1 L5.0 2.1 Z" fill="#0c0c0c" stroke="#000" stroke-width="0.6"/><path d="M-2.50 -3.44 L1.50 -4.20 Q5.28 0 1.50 4.20 L-2.50 3.44 Q-4.60 0 -2.50 -3.44 Z" fill="#ededed" stroke="#050505" stroke-width="1.0"/><path d="M-3.30 -1.26 L2.10 -1.60 M-3.30 1.34 L2.10 1.68" fill="none" stroke="#050505" stroke-width="0.7"/></g>
<g transform="translate(625.5 241.2) rotate(22.0)"><ellipse cx="-1.30" cy="0" rx="2.87" ry="3.50" fill="#ededed" stroke="#050505" stroke-width="1.0"/><ellipse cx="0" cy="0" rx="2.87" ry="3.50" fill="#ededed" stroke="#050505" stroke-width="1.2"/><ellipse cx="0.2" cy="0" rx="1.40" ry="1.93" fill="#ededed" stroke="#050505" stroke-width="0.9"/></g>
<g transform="translate(633.5 246.0) rotate(0.0) scale(4.750)"><path d="M-1.02 -0.3 L-0.6 -0.92 L0.2 -1.02 L0.8 -0.66 L1.02 0.2 L0.66 0.9 L-0.2 1.02 L-0.86 0.56 Z" fill="#ededed" stroke="#050505" stroke-width="0.211"/><ellipse cx="0.2" cy="0.04" rx="0.66" ry="0.84" transform="rotate(18 0.2 0.04)" fill="#ededed" stroke="#050505" stroke-width="0.232"/><path d="M-0.6 -0.92 L-0.38 -0.42 M-1.02 -0.3 L-0.46 0.1 M-0.86 0.56 L-0.36 0.5" fill="none" stroke="#050505" stroke-width="0.147"/><ellipse cx="0.24" cy="0.08" rx="0.30" ry="0.41" transform="rotate(18 0.24 0.08)" fill="#1e1e1e" stroke="#050505" stroke-width="0.168"/></g>
<g transform="translate(696.5 257.5) rotate(0.0) scale(5.000)"><path d="M-1.02 -0.3 L-0.6 -0.92 L0.2 -1.02 L0.8 -0.66 L1.02 0.2 L0.66 0.9 L-0.2 1.02 L-0.86 0.56 Z" fill="#ededed" stroke="#050505" stroke-width="0.200"/><ellipse cx="0.2" cy="0.04" rx="0.66" ry="0.84" transform="rotate(18 0.2 0.04)" fill="#ededed" stroke="#050505" stroke-width="0.220"/><path d="M-0.6 -0.92 L-0.38 -0.42 M-1.02 -0.3 L-0.46 0.1 M-0.86 0.56 L-0.36 0.5" fill="none" stroke="#050505" stroke-width="0.140"/><ellipse cx="0.24" cy="0.08" rx="0.30" ry="0.41" transform="rotate(18 0.24 0.08)" fill="#1e1e1e" stroke="#050505" stroke-width="0.160"/></g>
<g transform="translate(684.7 275.0) rotate(22.0)"><ellipse cx="-1.30" cy="0" rx="3.48" ry="4.25" fill="#ededed" stroke="#050505" stroke-width="1.0"/><ellipse cx="0" cy="0" rx="3.48" ry="4.25" fill="#ededed" stroke="#050505" stroke-width="1.2"/><ellipse cx="0.2" cy="0" rx="1.70" ry="2.34" fill="#ededed" stroke="#050505" stroke-width="0.9"/></g>
<g transform="translate(693.5 279.5) rotate(22.0)"><ellipse cx="-1.30" cy="0" rx="2.87" ry="3.50" fill="#ededed" stroke="#050505" stroke-width="1.0"/><ellipse cx="0" cy="0" rx="2.87" ry="3.50" fill="#ededed" stroke="#050505" stroke-width="1.2"/><ellipse cx="0.2" cy="0" rx="1.40" ry="1.93" fill="#ededed" stroke="#050505" stroke-width="0.9"/></g>
<g transform="translate(638.7 192.5) rotate(0.0) scale(4.750)"><path d="M-1.02 -0.3 L-0.6 -0.92 L0.2 -1.02 L0.8 -0.66 L1.02 0.2 L0.66 0.9 L-0.2 1.02 L-0.86 0.56 Z" fill="#ededed" stroke="#050505" stroke-width="0.211"/><ellipse cx="0.2" cy="0.04" rx="0.66" ry="0.84" transform="rotate(18 0.2 0.04)" fill="#ededed" stroke="#050505" stroke-width="0.232"/><path d="M-0.6 -0.92 L-0.38 -0.42 M-1.02 -0.3 L-0.46 0.1 M-0.86 0.56 L-0.36 0.5" fill="none" stroke="#050505" stroke-width="0.147"/><ellipse cx="0.24" cy="0.08" rx="0.30" ry="0.41" transform="rotate(18 0.24 0.08)" fill="#1e1e1e" stroke="#050505" stroke-width="0.168"/></g>
<path d="M646.2 194.4 L666.5 183.9 Q671.6 183.2 673.6 186.6 Q675 190.6 672.3 193.5 Q670 194.7 668.2 193.3 L666.9 191 L653.4 198.6 Q652.6 202.4 649.3 202.6 Q645.4 202.2 644.8 198.6 Q644.7 195.8 646.2 194.4 Z" fill="#ededed" stroke="#050505" stroke-width="1.05" />
<path d="M648.6 193.9 L667.6 184.6" fill="none" stroke="#050505" stroke-width="0.7" />
<ellipse cx="649.1" cy="198.3" rx="2.40" ry="3.00" transform="rotate(20.0 649.1 198.3)" fill="#ededed" stroke="#050505" stroke-width="0.9"/>
<ellipse cx="649.3" cy="198.4" rx="1.10" ry="1.50" transform="rotate(20.0 649.3 198.4)" fill="#ededed" stroke="#050505" stroke-width="0.7"/>
<path d="M670.6 185 Q672.8 188 670.6 191.8" fill="none" stroke="#050505" stroke-width="0.7" />
<g transform="translate(659.9 203.5) rotate(0.0) scale(5.500)"><path d="M-1.02 -0.3 L-0.6 -0.92 L0.2 -1.02 L0.8 -0.66 L1.02 0.2 L0.66 0.9 L-0.2 1.02 L-0.86 0.56 Z" fill="#ededed" stroke="#050505" stroke-width="0.182"/><ellipse cx="0.2" cy="0.04" rx="0.66" ry="0.84" transform="rotate(18 0.2 0.04)" fill="#ededed" stroke="#050505" stroke-width="0.200"/><path d="M-0.6 -0.92 L-0.38 -0.42 M-1.02 -0.3 L-0.46 0.1 M-0.86 0.56 L-0.36 0.5" fill="none" stroke="#050505" stroke-width="0.127"/><ellipse cx="0.24" cy="0.08" rx="0.30" ry="0.41" transform="rotate(18 0.24 0.08)" fill="#1e1e1e" stroke="#050505" stroke-width="0.145"/></g>
<path d="M688.0 158.5 L684.0 158.5 L672.0 183.0" fill="none" stroke="#050505" stroke-width="0.95" />
<path d="M699.0 187.0 L694.0 187.0 L666.0 203.0" fill="none" stroke="#050505" stroke-width="0.95" />
<path d="M534.5 243.0 L539.0 244.5 L546.0 267.5" fill="none" stroke="#050505" stroke-width="0.95" />
<path d="M656.5 318.0 L660.5 319.5 L676.0 348.7" fill="none" stroke="#050505" stroke-width="0.95" />
<path d="M241.0 284.0 L246.0 262.0" fill="none" stroke="#333" stroke-width="0.5" stroke-dasharray="6 2" stroke-linecap="butt"/>
<path d="M277.0 340.0 L357.0 514.0" fill="none" stroke="#333" stroke-width="0.6" stroke-dasharray="12 3" stroke-linecap="butt"/>
<ellipse cx="241.2" cy="286.0" rx="4.40" ry="3.20" transform="rotate(28.0 241.2 286.0)" fill="#ededed" stroke="#050505" stroke-width="0.9"/>
<path d="M 211.5 276.5 Q 212.5 274.3 215.5 274.4 L 218.0 274.8 L 272.5 302.8 Q 277.0 304.6 277.2 309.0 L 277.6 322.0 Q 279.3 330.0 277.6 339.0 Q 277.3 349.0 273.5 353.0 Q 271.5 355.3 268.0 354.9 L 212.0 320.0 Z" fill="#ededed" stroke="#050505" stroke-width="1.05" />
<path d="M 274.6 306.5 L 274.8 351.0" fill="none" stroke="#050505" stroke-width="0.7" />
<path d="M 277.4 323.0 Q 275.8 330.0 277.2 338.0" fill="none" stroke="#050505" stroke-width="0.6" />
<path d="M 210.2 279.5 Q 210.2 275.4 213.8 275.6 L 268.3 304.5 Q 271.8 306.2 271.8 310.0 L 271.8 351.0 Q 271.8 355.2 267.6 354.6 Q 259.0 352.8 232.5 339.2 Q 220.0 332.0 212.6 324.6 Q 210.2 322.4 210.2 319.0 Z" fill="#ededed" stroke="#050505" stroke-width="1.0" />
<ellipse cx="215.0" cy="281.2" rx="1.80" ry="2.40" transform="rotate(-20.0 215.0 281.2)" fill="#ededed" stroke="#050505" stroke-width="0.8"/>
<ellipse cx="267.5" cy="311.4" rx="1.80" ry="2.40" transform="rotate(-20.0 267.5 311.4)" fill="#ededed" stroke="#050505" stroke-width="0.8"/>
<ellipse cx="214.5" cy="320.9" rx="1.80" ry="2.40" transform="rotate(-20.0 214.5 320.9)" fill="#ededed" stroke="#050505" stroke-width="0.8"/>
<ellipse cx="267.5" cy="349.4" rx="1.80" ry="2.40" transform="rotate(-20.0 267.5 349.4)" fill="#ededed" stroke="#050505" stroke-width="0.8"/>
<path d="M168.0 329.5 L395.0 287.0" fill="none" stroke="#333" stroke-width="0.6" stroke-dasharray="12 3" stroke-linecap="butt"/>
<path d="M274.8 298.0 L300.7 292.0" fill="none" stroke="#333" stroke-width="0.6" stroke-dasharray="12 3" stroke-linecap="butt"/>
<path d="M277.8 309.5 L345.0 301.0" fill="none" stroke="#333" stroke-width="0.6" stroke-dasharray="12 3" stroke-linecap="butt"/>
<path d="M572.0 381.0 L583.0 315.0" fill="none" stroke="#333" stroke-width="0.5" stroke-dasharray="3 1.5" stroke-linecap="butt"/>
<path d="M607.0 403.0 L704.0 390.0" fill="none" stroke="#333" stroke-width="0.5" stroke-dasharray="9 2.5" stroke-linecap="butt"/>
<ellipse cx="571.2" cy="383.0" rx="4.40" ry="3.20" transform="rotate(28.0 571.2 383.0)" fill="#ededed" stroke="#050505" stroke-width="0.9"/>
<path d="M 541.5 373.5 Q 542.5 371.3 545.5 371.4 L 548.0 371.8 L 602.5 399.8 Q 607.0 401.6 607.2 406.0 L 607.6 419.0 Q 609.3 427.0 607.6 436.0 Q 607.3 446.0 603.5 450.0 Q 601.5 452.3 598.0 451.9 L 542.0 417.0 Z" fill="#ededed" stroke="#050505" stroke-width="1.05" />
<path d="M 604.6 403.5 L 604.8 448.0" fill="none" stroke="#050505" stroke-width="0.7" />
<path d="M 607.4 420.0 Q 605.8 427.0 607.2 435.0" fill="none" stroke="#050505" stroke-width="0.6" />
<path d="M 540.2 376.5 Q 540.2 372.4 543.8 372.6 L 598.3 401.5 Q 601.8 403.2 601.8 407.0 L 601.8 448.0 Q 601.8 452.2 597.6 451.6 Q 589.0 449.8 562.5 436.2 Q 550.0 429.0 542.6 421.6 Q 540.2 419.4 540.2 416.0 Z" fill="#ededed" stroke="#050505" stroke-width="1.0" />
<ellipse cx="545.0" cy="378.2" rx="1.80" ry="2.40" transform="rotate(-20.0 545.0 378.2)" fill="#ededed" stroke="#050505" stroke-width="0.8"/>
<ellipse cx="597.5" cy="408.4" rx="1.80" ry="2.40" transform="rotate(-20.0 597.5 408.4)" fill="#ededed" stroke="#050505" stroke-width="0.8"/>
<ellipse cx="544.5" cy="417.9" rx="1.80" ry="2.40" transform="rotate(-20.0 544.5 417.9)" fill="#ededed" stroke="#050505" stroke-width="0.8"/>
<ellipse cx="597.5" cy="446.4" rx="1.80" ry="2.40" transform="rotate(-20.0 597.5 446.4)" fill="#ededed" stroke="#050505" stroke-width="0.8"/>
<path d="M592.0 66.0 L580.0 78.0" fill="none" stroke="#333" stroke-width="0.5" stroke-dasharray="3 1" stroke-linecap="butt"/>
<path d="M553.0 136.0 L541.0 158.0" fill="none" stroke="#333" stroke-width="0.5" stroke-dasharray="3 1" stroke-linecap="butt"/>
<path d="M519.0 201.0 L508.7 216.0 L466.0 193.0" fill="none" stroke="#333" stroke-width="0.6" stroke-dasharray="12 3" stroke-linecap="butt"/>
<path d="M605.0 30.4 L611.2 33.3 L593.5 67.7 L587.4 63.6 Z" fill="#ededed" stroke="#050505" stroke-width="1.05" />
<path d="M605.2 27.5 Q604 18 610 11.5 Q615 7.2 619.5 9.2 Q624.5 12 624 18.5 Q623.3 25.5 613.3 32.6 Q608.5 32 605.2 27.5 Z" fill="#ededed" stroke="#050505" stroke-width="1.0" />
<path d="M608.5 29.5 Q607 20 612 13.5 Q615.5 10 618.8 10.8" fill="none" stroke="#050505" stroke-width="0.8" />
<ellipse cx="617.3" cy="19.2" rx="4.60" ry="7.00" transform="rotate(22.0 617.3 19.2)" fill="#ededed" stroke="#050505" stroke-width="0.9"/>
<ellipse cx="617.8" cy="19.8" rx="2.90" ry="4.60" transform="rotate(22.0 617.8 19.8)" fill="#3a3a3a" stroke="#050505" stroke-width="0.7"/>
<ellipse cx="618.3" cy="20.3" rx="1.60" ry="2.60" transform="rotate(22.0 618.3 20.3)" fill="#ededed" stroke="#050505" stroke-width="0.6"/>
<path d="M574.2 85.3 L582.5 90.0 L563.6 125.9 L554.1 122.5 Z" fill="#ededed" stroke="#050505" stroke-width="1.05" />
<path d="M581.2 74.2 L588.6 77.9 L582.7 89.6 L574.6 85.2 Z" fill="#ededed" stroke="#050505" stroke-width="1.05" />
<path d="M576.0 82.9 L584.0 87.2" fill="none" stroke="#050505" stroke-width="0.9" />
<path d="M575.2 84.6 L583.2 88.9" fill="none" stroke="#050505" stroke-width="0.9" />
<path d="M554.6 122.8 L563.0 126.3 L558.2 136.7 L550.3 132.7 Z" fill="#ededed" stroke="#050505" stroke-width="1.05" />
<path d="M553.6 124.8 L562.0 128.6" fill="none" stroke="#050505" stroke-width="0.9" />
<path d="M552.8 126.6 L561.2 130.4" fill="none" stroke="#050505" stroke-width="0.9" />
<path d="M577.8 92.8 L579.8 93.6 L565.2 121.4 L563.4 120.3 Z" fill="#ededed" stroke="#050505" stroke-width="0.8" />
<path d="M539 140 L543 142.5" fill="none" stroke="#050505" stroke-width="1.0" />
<ellipse cx="547.5" cy="144.0" rx="4.20" ry="2.30" transform="rotate(27.0 547.5 144.0)" fill="#555" stroke="#050505" stroke-width="0.9"/>
<ellipse cx="549.3" cy="145.0" rx="2.60" ry="1.90" transform="rotate(27.0 549.3 145.0)" fill="#ededed" stroke="#050505" stroke-width="0.6"/>
<ellipse cx="538.9" cy="139.9" rx="0.90" ry="0.90" transform="rotate(0.0 538.9 139.9)" fill="#ededed" stroke="#050505" stroke-width="0.6"/>
<path d="M538.7 155.4 L545.5 158.4 L532.6 184.8 L525.9 182.1 Z" fill="#ededed" stroke="#050505" stroke-width="1.05" />
<path d="M522.5 182.1 Q518.5 183 517.5 187 L514.4 197.7 Q513.6 203.5 515.8 205.4 Q518 207.6 521.5 205.6 L530 200.2 Q533.6 196.5 533.8 192 L533.6 188.2 Q532.6 184.6 529 183.2 Z" fill="#ededed" stroke="#050505" stroke-width="1.0" />
<path d="M516.8 205.5 Q518.5 206.2 520.8 204.6 L528.8 199.4 Q532.2 196 532.3 192.5 L532.2 188.5" fill="none" stroke="#050505" stroke-width="0.6" />
<path d="M521.3 189.6 L524.6 183.5 L530.6 186.2 L527.3 192.6 Z" fill="#ededed" stroke="#050505" stroke-width="0.8" />
<ellipse cx="518.8" cy="200.1" rx="1.20" ry="1.60" transform="rotate(15.0 518.8 200.1)" fill="#ededed" stroke="#050505" stroke-width="0.7"/>
<path d="M370.8 385.4 L487.2 449.8 L480.5 472.0 L361.6 404.6 Z" fill="#ededed" stroke="#050505" stroke-width="1.05" />
<path d="M369.6 387.4 L486.4 452.2" fill="none" stroke="#050505" stroke-width="0.7" />
<path d="M411 464 L419.4 474.2 L455.5 462.2 L447 455.5" fill="none" stroke="#050505" stroke-width="0.9" />
<path d="M451.2 450.1 L479.3 468.3" fill="none" stroke="#050505" stroke-width="1.0" />
<path d="M419.4 474.2 L455.5 462.2" fill="none" stroke="#050505" stroke-width="1.6" />
<path d="M398.8 472.6 L412.3 453.5 L418.7 473.4 L383.7 518.0 L367.7 514.0 Z" fill="#ededed" stroke="#050505" stroke-width="1.05" />
<path d="M418.7 473.4 L383.7 518.0" fill="none" stroke="#050505" stroke-width="0.9" />
<path d="M387.7 421 L387.7 413.9 L391.7 405.9 Q393.5 403.4 395.7 402.7 L460.7 437.4 Q461.2 440.5 459.1 442.2 L451.2 450.1 L411.4 463.7 L409 461.3 Z" fill="#ededed" stroke="#050505" stroke-width="1.05" />
<path d="M408.6 460 L450.6 448.3 L458.2 441" fill="none" stroke="#050505" stroke-width="0.7" />
<path d="M411.4 463.7 L451.2 450.1" fill="none" stroke="#050505" stroke-width="1.4" />
<path d="M380.5 462.3 L398.8 472.6 L367.7 514.0 L350.2 503.7 Z" fill="#ededed" stroke="#050505" stroke-width="1.05" />
<path d="M372.4 436.6 Q370.8 433.5 372.4 431.8 L377.2 425.5 Q378 424.7 379.5 424.6 L427.3 419.1 Q429.6 419.6 428.9 421.5 L394.2 469 Q392.6 469.6 391.4 468.2 Z" fill="#ededed" stroke="#050505" stroke-width="1.05" />
<path d="M374.6 436 L392.6 466.6" fill="none" stroke="#050505" stroke-width="0.7" />
<path d="M420.1 433.4 L427.3 438.2 L412.2 455.7 L405.8 450.9 Z" fill="#ededed" stroke="#050505" stroke-width="1.05" />
<path d="M390.0 465.5 L405.9 449.5 L412.3 453.5 L398.8 472.6 Z" fill="#ededed" stroke="#050505" stroke-width="1.05" />
<path d="M380.5 462.3 L390.0 465.5" fill="none" stroke="#050505" stroke-width="0.9" />
<path d="M412.6 456.3 L399.5 473.2" fill="none" stroke="#050505" stroke-width="1.4" />
<ellipse cx="380.1" cy="433.8" rx="1.50" ry="2.50" transform="rotate(20.0 380.1 433.8)" fill="#ededed" stroke="#050505" stroke-width="0.8"/>
<path d="M384 436.4 L387.2 433.6 L391.8 433.6 L394.8 436.6 L395 441.4 L391.8 444.6 L387.2 444.4 L384.2 441.2 Z" fill="#ededed" stroke="#050505" stroke-width="0.9" />
<ellipse cx="390.4" cy="439.2" rx="3.90" ry="4.60" transform="rotate(15.0 390.4 439.2)" fill="#ededed" stroke="#050505" stroke-width="0.8"/>
<path d="M384 436.4 L386.6 437.4 M384.2 441.2 L386.8 441.4" fill="none" stroke="#050505" stroke-width="0.6" />
<path d="M362.2 455.6 L367.0 455.6 L384.5 441.8" fill="none" stroke="#050505" stroke-width="0.95" />
<path d="M366.8 371.3 Q370 368.6 374.8 368.1 L382.8 368.9 Q385.5 370 386.7 372.9 Q388 374.6 389.1 374.4 Q390.8 373.2 389.4 370.6 Q386.4 366 386.7 361.7 Q387.8 359.2 390.7 359.3 Q394.2 359.6 395.8 362.5 Q398.2 366.5 397.6 371 Q396.8 378 391 384.5 L384.4 391.2 L370.8 385.4 L361.6 404.6 L364.6 409.2 Q360 407.5 358.6 404 Q355.8 400.2 356.8 397.6 L368.4 381.6 Q368.8 376 366.8 371.3 Z" fill="#ededed" stroke="#050505" stroke-width="1.05" />
<path d="M369.4 372.4 Q370.8 377 370.4 382.2 L359.4 398 Q358.8 401 360.6 404.2 L363.6 407.6" fill="none" stroke="#050505" stroke-width="0.7" />
<path d="M369.4 372.4 Q373 370 382 370.6" fill="none" stroke="#050505" stroke-width="0.6" />
<ellipse cx="371.1" cy="373.4" rx="0.90" ry="0.90" transform="rotate(0.0 371.1 373.4)" fill="#ededed" stroke="#050505" stroke-width="0.6"/>
<path d="M487.4 440.2 Q488 438.2 490.5 437.2 L496.9 436.8 Q501.5 437 503.9 438.5 Q506 440.2 507 442.3 Q508.4 443.8 509.6 442.9 Q511.4 441.6 510.4 439.4 Q507.4 435.4 507 431.5 Q507.4 428.6 509.8 428.2 Q512.6 427.8 514.6 429.4 Q517.4 432 518.2 436 Q519 441.6 515.9 449.3 Q513.5 453 509.6 456.9 L500.7 468.3 Q495 474.6 491.8 477.2 Q489 479.6 487.2 479.7 Q485 478.4 481 473.4 Q478.6 470.4 479.1 468.3 L488.6 451.8 Z" fill="#ededed" stroke="#050505" stroke-width="1.1" />
<path d="M491.2 442.3 L491.8 452.6 L482.3 468.6 Q482.6 470.8 483.5 472.7 L487.4 477.2" fill="none" stroke="#050505" stroke-width="0.7" />
<path d="M491.2 442.3 Q491 439.6 493 438.9 L497 438.7 Q501.5 439 503.4 440.4" fill="none" stroke="#050505" stroke-width="0.6" />
<ellipse cx="492.4" cy="441.7" rx="1.00" ry="1.00" transform="rotate(0.0 492.4 441.7)" fill="#ededed" stroke="#050505" stroke-width="0.7"/>
<path d="M339.0 505.0 L343.0 507.5" fill="none" stroke="#050505" stroke-width="0.6" />
<path d="M385.0 528.0 L445.0 564.0" fill="none" stroke="#333" stroke-width="0.5" stroke-dasharray="4 2" stroke-linecap="butt"/>
<path d="M349.4 498.9 L375.5 511.8 L369.5 532.6 L343.9 519.6 Q338.4 515 340.4 507 Q343 499.6 349.4 498.9 Z" fill="#ededed" stroke="#050505" stroke-width="1.05" />
<path d="M349.4 498.9 Q352 502.5 351.2 506" fill="none" stroke="#050505" stroke-width="0.7" />
<ellipse cx="376.5" cy="522.8" rx="7.20" ry="10.20" transform="rotate(22.0 376.5 522.8)" fill="#ededed" stroke="#050505" stroke-width="1.0"/>
<ellipse cx="377.0" cy="523.0" rx="5.20" ry="7.60" transform="rotate(22.0 377.0 523.0)" fill="#ededed" stroke="#050505" stroke-width="0.8"/>
<ellipse cx="377.6" cy="523.3" rx="3.30" ry="5.10" transform="rotate(22.0 377.6 523.3)" fill="#ededed" stroke="#050505" stroke-width="0.8"/>
<path d="M335.0 467.0 L356.4 514.0" fill="none" stroke="#333" stroke-width="0.6" stroke-dasharray="12 3" stroke-linecap="butt"/>
<path d="M350.2 503.7 L367.7 514.0 L383.7 518.0" fill="none" stroke="#050505" stroke-width="0.9" />
<g transform="translate(331.9 499.7) scale(1.00)"><path d="M-7.4 -3.2 L-3.2 -8 L3.2 -7 L8 -2.6 L8.2 3.6 L4 7.8 L-2.8 6.8 L-7.6 2.8 Z" fill="#ededed" stroke="#050505" stroke-width="0.9"/><ellipse cx="3.2" cy="0.6" rx="4.4" ry="6.2" transform="rotate(22 3.2 0.6)" fill="#ededed" stroke="#050505" stroke-width="0.8"/><ellipse cx="3.6" cy="0.8" rx="3.0" ry="4.6" transform="rotate(22 3.6 0.8)" fill="#ededed" stroke="#050505" stroke-width="0.7"/><path d="M-7.4 -3.2 L-2.4 -1 L-2.8 6.8 M-2.4 -1 L2.6 -5.6" fill="none" stroke="#050505" stroke-width="0.7"/></g>
<g transform="translate(391.6 534.2) scale(1.00)"><path d="M-7.4 -3.2 L-3.2 -8 L3.2 -7 L8 -2.6 L8.2 3.6 L4 7.8 L-2.8 6.8 L-7.6 2.8 Z" fill="#ededed" stroke="#050505" stroke-width="0.9"/><ellipse cx="3.2" cy="0.6" rx="4.4" ry="6.2" transform="rotate(22 3.2 0.6)" fill="#ededed" stroke="#050505" stroke-width="0.8"/><ellipse cx="3.6" cy="0.8" rx="3.0" ry="4.6" transform="rotate(22 3.6 0.8)" fill="#ededed" stroke="#050505" stroke-width="0.7"/><path d="M-7.4 -3.2 L-2.4 -1 L-2.8 6.8 M-2.4 -1 L2.6 -5.6" fill="none" stroke="#050505" stroke-width="0.7"/></g>
<ellipse cx="295.2" cy="479.2" rx="8.60" ry="12.60" transform="rotate(22.0 295.2 479.2)" fill="#ededed" stroke="#050505" stroke-width="1.1"/>
<ellipse cx="294.4" cy="479.8" rx="7.20" ry="11.20" transform="rotate(22.0 294.4 479.8)" fill="#ededed" stroke="#050505" stroke-width="0.8"/>
<ellipse cx="295.4" cy="481.2" rx="3.30" ry="5.60" transform="rotate(22.0 295.4 481.2)" fill="#ededed" stroke="#050505" stroke-width="1.0"/>
<path d="M292.6 467.6 Q293.4 464.4 296.4 465 L297.2 470.2 M299.6 465.4 Q302.2 466 302 469 L299.2 471.2" fill="none" stroke="#050505" stroke-width="1.2" />
<path d="M297.2 465.4 L297.4 476" fill="none" stroke="#050505" stroke-width="1.3" />
<ellipse cx="307.2" cy="486.0" rx="9.20" ry="12.50" transform="rotate(24.0 307.2 486.0)" fill="#ededed" stroke="#050505" stroke-width="1.0"/>
<ellipse cx="308.8" cy="486.5" rx="9.20" ry="12.50" transform="rotate(24.0 308.8 486.5)" fill="#ededed" stroke="#050505" stroke-width="1.1"/>
<ellipse cx="309.2" cy="486.6" rx="4.30" ry="6.80" transform="rotate(24.0 309.2 486.6)" fill="#ededed" stroke="#050505" stroke-width="1.0"/>
<path d="M306.4 482 Q305.4 487 308 491.6" fill="none" stroke="#050505" stroke-width="0.7" />
<path d="M316.5 491.5 L324.0 496.0" fill="none" stroke="#050505" stroke-width="0.6" />
<path d="M413.4 538.8 L436.6 551 L426.3 561.9 L407.6 552.3 Q406 546 408.8 541.4 Q410.8 538.6 413.4 538.8 Z" fill="#ededed" stroke="#050505" stroke-width="1.05" />
<path d="M412.6 538.9 Q409 540.4 407.8 545.6 Q407 549.6 408.2 552.4" fill="none" stroke="#050505" stroke-width="2.0" />
<path d="M414.6 539.6 Q411.2 541.6 410.2 546.4 Q409.6 550 410.6 553.4" fill="none" stroke="#050505" stroke-width="0.7" />
<path d="M425.2 563.4 Q424.6 557 428 553.4 Q431.4 550.2 436 550.8 L440 551.6 Q442.4 552.6 441.8 555 L439.2 566.4 L437.8 576.7 L431.4 581.8 L429.5 581.2 L429.5 571.6 L425 569 Z" fill="#ededed" stroke="#050505" stroke-width="1.1" />
<path d="M438.4 551.6 Q440.4 552.8 439.8 555.4 L437.2 566.4 L436 575.4 L430.4 580.4" fill="none" stroke="#050505" stroke-width="0.7" />
<ellipse cx="433.8" cy="558.2" rx="5.60" ry="7.00" transform="rotate(24.0 433.8 558.2)" fill="#ededed" stroke="#050505" stroke-width="0.9"/>
<ellipse cx="434.2" cy="558.7" rx="1.30" ry="1.90" transform="rotate(20.0 434.2 558.7)" fill="#ededed" stroke="#050505" stroke-width="0.8"/>
<path d="M443.4 564.6 L445.4 562.6 L448.4 563.2 L449.6 565.4 L452.2 566.6 L452.6 569.4 L450.4 570.4 L447.8 569.6 L445.6 570 L443.2 567.6 Z" fill="#555" stroke="#050505" stroke-width="1.0" />
<path d="M447.2 563.4 L446.4 569.4 M449.8 565.6 L449 570" fill="none" stroke="#ddd" stroke-width="0.7" />
<path d="M492.4 441.7 L523.0 460.0" fill="none" stroke="#333" stroke-width="0.5" stroke-dasharray="5 2" stroke-linecap="butt"/>
<path d="M326.0 352.5 L340.0 357.0" fill="none" stroke="#333" stroke-width="0.5" stroke-dasharray="3 1.5" stroke-linecap="butt"/>
<path d="M348.0 360.0 L371.0 373.0" fill="none" stroke="#333" stroke-width="0.5" stroke-dasharray="4 2" stroke-linecap="butt"/>
<path d="M341.4 354.5 L365.3 353.8 L366.0 356.1 L361.6 358.3 L363.7 361.7 L347.7 363.3 L340.6 362.5 Z" fill="#ededed" stroke="#050505" stroke-width="1.1" />
<ellipse cx="346.6" cy="360.4" rx="2.60" ry="2.00" transform="rotate(25.0 346.6 360.4)" fill="#666" stroke="#050505" stroke-width="1.1"/>
<ellipse cx="347.0" cy="360.6" rx="1.30" ry="0.90" transform="rotate(25.0 347.0 360.6)" fill="#ededed" stroke="#050505" stroke-width="0.6"/>
<path d="M334.6 356.4 L340.6 359.2" fill="none" stroke="#050505" stroke-width="1.4" />
<ellipse cx="336.6" cy="357.4" rx="1.20" ry="1.00" transform="rotate(25.0 336.6 357.4)" fill="#555" stroke="#050505" stroke-width="0.7"/>
<ellipse cx="322.8" cy="352.5" rx="2.60" ry="3.80" transform="rotate(38.0 322.8 352.5)" fill="#ededed" stroke="#050505" stroke-width="1.0"/>
<path d="M320.4 355.6 Q316.0 359.0 314.0 362.8" fill="none" stroke="#050505" stroke-width="0.6" />
<path d="M313.5 363.4 L313.0 370.4" fill="none" stroke="#050505" stroke-width="1.8" />
<path d="M312.8 371.0 Q311.6 384.0 312.8 391.4 Q313.4 394.6 315.5 395.6" fill="none" stroke="#050505" stroke-width="0.6" />
<path d="M314.0 394.6 Q319.0 397.2 324.8 394.6" fill="none" stroke="#050505" stroke-width="1.8" />
<path d="M325.0 394.2 Q326.0 391.0 326.4 386.6" fill="none" stroke="#050505" stroke-width="0.6" />
<ellipse cx="327.4" cy="382.9" rx="2.60" ry="3.80" transform="rotate(38.0 327.4 382.9)" fill="#ededed" stroke="#050505" stroke-width="1.0"/>
<path d="M330.6 382.4 L337.8 381.8" fill="none" stroke="#050505" stroke-width="0.5" />
<ellipse cx="341.1" cy="381.3" rx="3.00" ry="4.60" transform="rotate(38.0 341.1 381.3)" fill="#ededed" stroke="#050505" stroke-width="1.0"/>
<path d="M345.2 378.6 L354.2 374.0" fill="none" stroke="#050505" stroke-width="1.6" />
<path d="M520 460.6 L545.4 456.4 L546.6 458.8 L542 460.8 L543.4 464 L526 466.8 L520.6 466 Z" fill="#ededed" stroke="#050505" stroke-width="1.1" />
<ellipse cx="522.6" cy="462.4" rx="2.60" ry="3.60" transform="rotate(-20.0 522.6 462.4)" fill="#777" stroke="#050505" stroke-width="1.0"/>
<ellipse cx="524.4" cy="463.0" rx="1.50" ry="2.00" transform="rotate(-20.0 524.4 463.0)" fill="#ededed" stroke="#050505" stroke-width="0.7"/>
<ellipse cx="530.0" cy="480.0" rx="3.90" ry="2.80" transform="rotate(30.0 530.0 480.0)" fill="#ededed" stroke="#050505" stroke-width="1.0"/>
<path d="M527 466.8 L529 476.6" fill="none" stroke="#050505" stroke-width="0.5" />
<path d="M531.8 483.2 L533.8 493.6" fill="none" stroke="#050505" stroke-width="0.6" />
<path d="M534 494 L535.6 504" fill="none" stroke="#050505" stroke-width="1.8" />
<path d="M535.8 504.6 Q538.6 520 538.4 524 Q537 530.5 531 531.6" fill="none" stroke="#050505" stroke-width="0.6" />
<path d="M534.6 530.4 Q527 533.4 518.6 528.6" fill="none" stroke="#050505" stroke-width="1.7" />
<ellipse cx="508.2" cy="524.4" rx="4.30" ry="2.90" transform="rotate(32.0 508.2 524.4)" fill="#ededed" stroke="#050505" stroke-width="1.0"/>
<path d="M512.4 526.4 L518 528.4" fill="none" stroke="#050505" stroke-width="0.5" />
<path d="M492.6 519.4 L504 523.2" fill="none" stroke="#050505" stroke-width="0.5" />
<ellipse cx="488.0" cy="517.6" rx="4.60" ry="3.20" transform="rotate(40.0 488.0 517.6)" fill="#ededed" stroke="#050505" stroke-width="1.0"/>
<path d="M484.6 514.6 L474 509.4" fill="none" stroke="#050505" stroke-width="1.6" />
<path d="M568.8 144 L744.2 144" fill="none" stroke="#000" stroke-width="2.8" stroke-linecap="butt"/>
<path d="M743 143 L744.1 143 L744.2 418.2 L741.7 418.2 Z" fill="#000" stroke="#000" stroke-width="0.2" />
<path d="M742.9 417.6 L624.1 479.9" fill="none" stroke="#000" stroke-width="2.6" />
<path d="M624.1 479.9 L488.2 403.9" fill="none" stroke="#000" stroke-width="3.1" />
<path d="M486.9 404.6 L489.6 404.6 L488.1 283 L486.2 283 Z" fill="#000" stroke="#000" stroke-width="0.2" />
<path d="M487.1 283.4 L570.2 144.4" fill="none" stroke="#000" stroke-width="2.6" />
<path d="M362 238 L457.6 313 L470 314" fill="none" stroke="#000" stroke-width="2.2" />
<path d="M488.2 314.6 L468.8 309.7 L468.8 319.5 Z" fill="#000" stroke="#000" stroke-width="0.6" />
<g transform="rotate(0.03)">
<text x="223.1" y="26.0" font-size="11">15</text>
<text x="223.1" y="39.5" font-size="11">18</text>
<text x="230.0" y="52.5" font-size="11">7</text>
<text x="173.5" y="65.0" font-size="11">(1)</text>
<text x="168.5" y="87.5" font-size="11">2</text>
<text x="152.5" y="139.0" font-size="11">(23)</text>
<text x="101.5" y="150.0" font-size="11">3</text>
<text x="360.5" y="58.0" font-size="11">3</text>
<text x="377.0" y="82.5" font-size="11">25</text>
<text x="300.5" y="200.5" font-size="11">8</text>
<text x="209.6" y="240.5" font-size="11">1</text>
<text x="296.7" y="249.0" font-size="11">7</text>
<text x="171.5" y="254.0" font-size="11">8</text>
<text x="204.0" y="261.0" font-size="11">24</text>
<text x="272.5" y="261.0" font-size="11">8</text>
<text x="176.0" y="288.0" font-size="11">26</text>
<text x="441.0" y="113.0" font-size="11">8</text>
<text x="440.2" y="126.0" font-size="11">15</text>
<text x="440.2" y="139.6" font-size="11">18</text>
<text x="442.0" y="155.5" font-size="11">7</text>
<text x="329.0" y="222.0" font-size="11">8</text>
<text x="310.0" y="238.0" font-size="11">(23)</text>
<text x="469.1" y="255.0" font-size="11">1</text>
<text x="472.5" y="300.5" font-size="11">2</text>
<text x="473.1" y="340.5" font-size="11">1</text>
<text x="312.5" y="328.0" font-size="11">3</text>
<text x="349.0" y="322.5" font-size="11">7</text>
<text x="369.2" y="334.5" font-size="11">24</text>
<text x="525.0" y="21.0" font-size="11">6</text>
<text x="525.0" y="39.0" font-size="11">4</text>
<text x="502.5" y="93.0" font-size="11">9</text>
<text x="492.5" y="118.0" font-size="11">5</text>
<text x="580.0" y="164.5" font-size="11">27</text>
<text x="652.0" y="160.0" font-size="11">28</text>
<text x="689.7" y="163.0" font-size="11">29</text>
<text x="701.0" y="190.7" font-size="11">7</text>
<text x="522.5" y="247.0" font-size="11">30</text>
<text x="644.7" y="322.5" font-size="11">30</text>
<text x="347.8" y="458.5" font-size="11">16</text>
<text x="209.6" y="503.0" font-size="11">12</text>
<text x="207.8" y="521.0" font-size="11">10</text>
<text x="267.1" y="530.0" font-size="11">17</text>
<text x="278.0" y="556.0" font-size="11">22</text>
<text x="310.3" y="576.2" font-size="11">17</text>
<text x="375.3" y="581.0" font-size="11">14</text>
<text x="493.3" y="581.0" font-size="11">19</text>
<text x="591.2" y="487.2" font-size="11">21</text>
<text x="592.2" y="507.8" font-size="11">11</text>
<text x="592.0" y="527.2" font-size="11">20</text>
<text x="555.0" y="562.2" font-size="11">11</text>
<text x="556.0" y="580.6" font-size="11">13</text>
<path d="M236.0 22.0 L241.0 22.0 L306.0 146.0" fill="none" stroke="#050505" stroke-width="0.95" />
<path d="M236.0 36.0 L241.0 36.0 L296.0 141.0" fill="none" stroke="#050505" stroke-width="0.95" />
<path d="M236.0 49.0 L241.0 49.0 L284.0 139.0" fill="none" stroke="#050505" stroke-width="0.95" />
<path d="M188.0 61.0 L197.0 61.0 L223.0 104.0" fill="none" stroke="#050505" stroke-width="0.95" />
<path d="M175.0 84.0 L181.0 84.0 L210.5 122.5" fill="none" stroke="#050505" stroke-width="0.95" />
<path d="M359.0 54.0 L352.0 54.0 L305.5 119.5" fill="none" stroke="#050505" stroke-width="0.95" />
<path d="M376.0 78.0 L369.0 78.0 L337.0 130.0" fill="none" stroke="#050505" stroke-width="0.95" />
<path d="M439.3 109.0 L434.8 109.0 L370.0 156.0" fill="none" stroke="#050505" stroke-width="0.95" />
<path d="M439.3 123.3 L433.6 123.3 L360.0 175.0" fill="none" stroke="#050505" stroke-width="0.95" />
<path d="M439.3 136.4 L431.8 136.4 L366.0 180.0" fill="none" stroke="#050505" stroke-width="0.95" />
<path d="M439.3 151.8 L431.2 151.8 L376.0 190.0" fill="none" stroke="#050505" stroke-width="0.95" />
<path d="M329.5 234.5 L335.0 234.5 L341.0 245.0" fill="none" stroke="#050505" stroke-width="0.95" />
<path d="M189.0 284.0 L196.0 284.0 L217.5 304.0" fill="none" stroke="#050505" stroke-width="0.95" />
<path d="M532.5 17.5 L540.0 17.5 L590.0 55.0" fill="none" stroke="#050505" stroke-width="0.95" />
<path d="M532.5 35.0 L541.0 35.0 L564.0 102.5" fill="none" stroke="#050505" stroke-width="0.95" />
<path d="M510.0 89.5 L519.0 89.5 L544.0 140.0" fill="none" stroke="#050505" stroke-width="0.95" />
<path d="M501.0 114.5 L511.0 114.5 L535.0 165.0" fill="none" stroke="#050505" stroke-width="0.95" />
<path d="M578.7 160.7 L575.7 160.7 L558.7 205.0" fill="none" stroke="#050505" stroke-width="0.95" />
<path d="M650.5 156.0 L647.0 156.0 L638.7 187.5" fill="none" stroke="#050505" stroke-width="0.95" />
<path d="M225.0 500.0 L237.0 500.0 L285.0 485.5" fill="none" stroke="#050505" stroke-width="0.95" />
<path d="M222.5 517.5 L231.2 517.5 L298.7 495.5" fill="none" stroke="#050505" stroke-width="0.95" />
<path d="M280.0 526.7 L290.0 526.7 L323.7 503.0" fill="none" stroke="#050505" stroke-width="0.95" />
<path d="M292.5 551.7 L304.5 551.7 L350.0 523.0" fill="none" stroke="#050505" stroke-width="0.95" />
<path d="M325.0 573.5 L335.0 573.5 L383.7 539.2" fill="none" stroke="#050505" stroke-width="0.95" />
<path d="M389.5 578.0 L400.0 578.0 L418.7 553.0" fill="none" stroke="#050505" stroke-width="0.95" />
<path d="M492.5 578.0 L485.0 578.0 L451.2 567.5" fill="none" stroke="#050505" stroke-width="0.95" />
<path d="M590.0 483.2 L577.5 483.2 L546.2 458.7" fill="none" stroke="#050505" stroke-width="0.95" />
<path d="M590.0 504.2 L577.5 504.2 L533.7 481.2" fill="none" stroke="#050505" stroke-width="0.95" />
<path d="M590.0 523.7 L580.0 523.7 L536.2 501.2" fill="none" stroke="#050505" stroke-width="0.95" />
<path d="M553.0 559.5 L543.7 559.5 L513.7 527.5" fill="none" stroke="#050505" stroke-width="0.95" />
<path d="M553.7 576.2 L541.2 576.2 L491.2 521.2" fill="none" stroke="#050505" stroke-width="0.95" />
</g>
<text transform="matrix(0.9846 0.1749 -0.1253 0.9921 211.65 290.43)" x="0" y="0" font-size="83.6" style="font-family:'Liberation Sans',sans-serif;fill:none;stroke:#404040;stroke-width:1.0">A</text>
<text transform="matrix(0.9846 0.1749 -0.1305 0.9914 268.52 300.52)" x="0" y="0" font-size="81" style="font-family:'Liberation Sans',sans-serif;fill:none;stroke:#404040;stroke-width:1.0">u</text>
<text transform="matrix(1.0831 0.1923 -0.1392 0.9903 318.92 309.47)" x="0" y="0" font-size="80" style="font-family:'Liberation Sans',sans-serif;fill:none;stroke:#404040;stroke-width:1.0">t</text>
<text transform="matrix(1.0831 0.1923 -0.1478 0.9890 335.31 312.39)" x="0" y="0" font-size="84" style="font-family:'Liberation Sans',sans-serif;fill:none;stroke:#404040;stroke-width:1.0">o</text>
<text transform="matrix(0.9157 0.1626 -0.1564 0.9877 390.98 320.57)" x="0" y="0" font-size="83" style="font-family:'Liberation Sans',sans-serif;fill:none;stroke:#404040;stroke-width:1.0">S</text>
<text transform="matrix(1.0831 0.1923 -0.1650 0.9863 441.25 329.50)" x="0" y="0" font-size="84" style="font-family:'Liberation Sans',sans-serif;fill:none;stroke:#404040;stroke-width:1.0">o</text>
<text transform="matrix(1.0831 0.1923 -0.2079 0.9781 486.25 337.49)" x="0" y="0" font-size="81" style="font-family:'Liberation Sans',sans-serif;fill:none;stroke:#404040;stroke-width:1.0">f</text>
<text transform="matrix(0.9354 0.1661 -0.1908 0.9816 513.06 342.25)" x="0" y="0" font-size="86" style="font-family:'Liberation Sans',sans-serif;fill:none;stroke:#404040;stroke-width:1.0">t</text>
</svg>
</body></html>
